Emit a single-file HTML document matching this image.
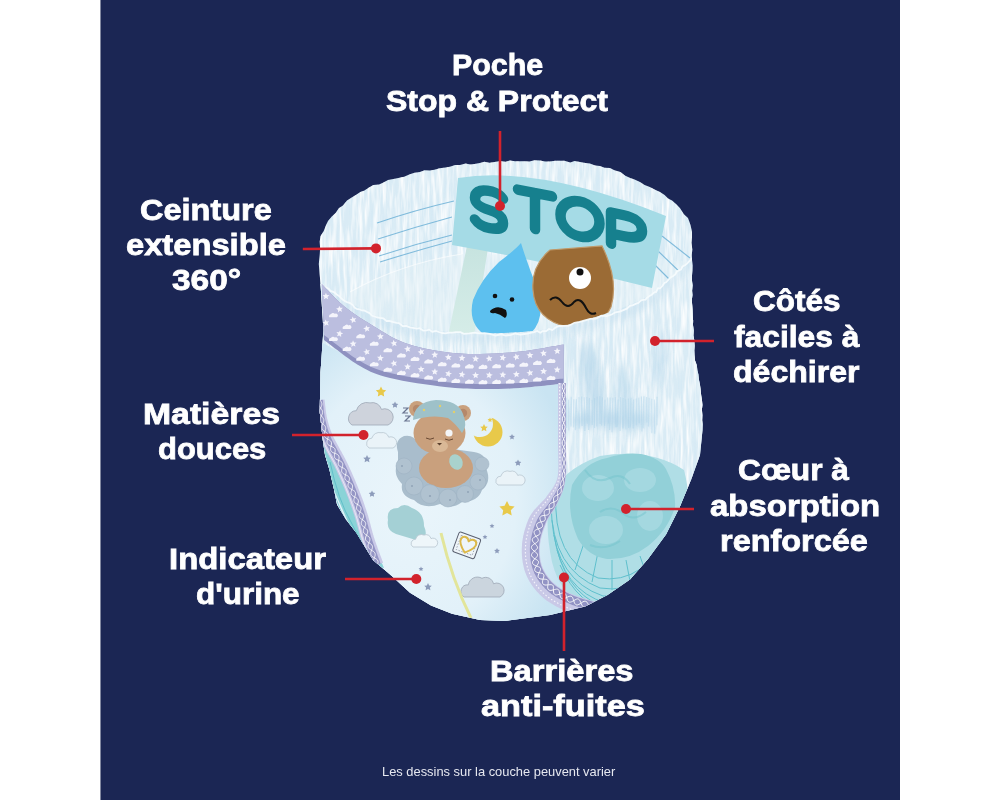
<!DOCTYPE html>
<html><head><meta charset="utf-8"><style>
html,body{margin:0;padding:0;width:1000px;height:800px;overflow:hidden;background:#fff}
#p{position:absolute;left:101px;top:0;width:799px;height:800px;background:#1b2654}
#pe{position:absolute;left:100px;top:0;width:1px;height:800px;background:#1b2654;opacity:0.55}
svg{position:absolute;left:0;top:0}
.t{position:absolute;font:bold 30px "Liberation Sans",sans-serif;line-height:30px;color:#fff;-webkit-text-stroke:0.8px #fff;white-space:nowrap;transform-origin:0 0}
.s{position:absolute;font:13.5px "Liberation Sans",sans-serif;line-height:14px;color:#e6e8f0;white-space:nowrap;transform-origin:0 0}
</style></head><body>
<div id="p"></div><div id="pe"></div>
<svg width="1000" height="800" viewBox="0 0 1000 800">
<defs>
<linearGradient id="gbody" x1="0" y1="0" x2="0" y2="1">
<stop offset="0" stop-color="#e3f1f8"/><stop offset="1" stop-color="#d6eaf5"/>
</linearGradient>
<radialGradient id="gfront" cx="0.42" cy="0.55" r="0.62">
<stop offset="0" stop-color="#eaf5fb"/><stop offset="0.65" stop-color="#e2f1f9"/><stop offset="1" stop-color="#c9e4f2"/>
</radialGradient>
<linearGradient id="gside" x1="0" y1="0" x2="1" y2="0">
<stop offset="0" stop-color="#d2e8f4"/><stop offset="0.5" stop-color="#dcedf7"/><stop offset="1" stop-color="#e3f1f8"/>
</linearGradient>
<radialGradient id="gpad" cx="0.5" cy="0.4" r="0.7">
<stop offset="0" stop-color="#a9ddd8"/><stop offset="1" stop-color="#8bcfca"/>
</radialGradient>
<clipPath id="clipD"><path d="M318.8,264.0 L319.3,258.8 L319.8,253.6 L320.1,248.0 L319.7,241.5 L320.6,236.0 L323.6,231.3 L326.0,225.3 L328.0,221.0 L331.8,216.5 L335.7,213.0 L338.8,208.3 L342.9,205.4 L347.0,200.6 L351.7,197.4 L356.2,194.7 L360.3,192.1 L364.0,190.8 L369.0,187.5 L373.4,185.1 L379.1,184.4 L383.0,182.7 L388.0,180.0 L393.4,179.0 L398.3,178.1 L404.2,176.8 L409.8,174.3 L414.5,172.7 L420.0,172.0 L424.6,170.3 L429.8,170.4 L434.4,169.7 L439.8,168.2 L445.4,167.6 L449.8,166.7 L455.2,165.1 L460.0,165.0 L465.6,163.6 L470.3,164.6 L474.4,164.0 L479.8,163.1 L484.4,161.7 L489.6,162.8 L494.6,162.0 L500.0,161.0 L505.5,161.7 L509.8,160.6 L515.0,161.3 L519.5,161.2 L525.4,161.3 L529.4,161.4 L534.5,160.3 L540.0,160.5 L545.1,161.4 L549.8,161.6 L555.1,160.7 L559.8,160.7 L564.5,160.8 L570.2,162.5 L574.6,161.0 L580.0,162.0 L585.6,163.1 L589.9,163.5 L595.1,165.6 L599.9,165.9 L604.5,167.7 L610.0,168.0 L614.4,170.3 L620.4,172.0 L625.3,175.8 L630.2,177.9 L634.5,179.5 L640.0,182.0 L644.6,185.1 L649.8,186.9 L655.6,190.1 L660.0,192.0 L664.6,194.9 L668.0,198.4 L672.0,200.6 L676.0,204.0 L679.9,208.0 L683.9,214.2 L688.0,218.0 L690.6,225.2 L692.0,232.0 L692.0,237.3 L691.5,242.8 L692.3,249.5 L691.8,254.9 L692.0,260.0 L692.4,265.4 L692.3,270.5 L692.0,275.4 L691.9,280.0 L692.6,285.3 L692.1,290.8 L692.5,295.1 L691.8,300.1 L692.2,305.3 L692.5,310.0 L692.7,315.6 L693.1,320.5 L693.0,325.3 L693.7,330.6 L693.4,335.6 L694.3,340.3 L694.6,345.8 L694.3,350.1 L694.5,355.0 L695.0,360.6 L696.8,365.0 L697.4,370.4 L698.4,374.4 L699.0,380.0 L700.0,385.1 L700.6,389.9 L701.2,395.5 L702.0,400.4 L702.5,405.0 L701.9,409.4 L702.4,415.3 L702.2,420.3 L702.7,424.2 L702.5,430.0 L700.0,455.0 L691.0,480.0 L679.5,507.5 L666.0,534.5 L648.0,559.0 L630.0,579.5 L607.5,595.0 L585.0,606.5 L550.0,615.0 L505.0,621.0 L480.0,620.0 L452.0,613.8 L431.0,605.4 L410.0,592.8 L391.8,576.0 L373.0,560.0 L356.5,533.0 L346.0,519.5 L337.0,504.5 L334.0,489.5 L329.5,470.0 L325.0,455.0 L322.8,440.0 L319.7,412.0 L320.5,372.5 L323.4,330.0 L321.5,300.0 L320.6,285.0Z"/></clipPath>
<filter id="t1" x="0" y="0" width="1" height="1">
<feTurbulence type="fractalNoise" baseFrequency="0.3 0.03" numOctaves="3" seed="4"/>
<feColorMatrix values="0 0 0 0 1  0 0 0 0 1  0 0 0 0 1  0 0 0 2.5 -1.0"/>
</filter>
<filter id="t2" x="0" y="0" width="1" height="1">
<feTurbulence type="fractalNoise" baseFrequency="0.3 0.03" numOctaves="3" seed="4"/>
<feColorMatrix values="0 0 0 0 0.6  0 0 0 0 0.78  0 0 0 0 0.9  0 0 0 -2.5 1.1"/>
</filter>
<filter id="t3" x="0" y="0" width="1" height="1">
<feTurbulence type="fractalNoise" baseFrequency="0.06 0.2" numOctaves="3" seed="11"/>
<feColorMatrix values="0 0 0 0 1  0 0 0 0 1  0 0 0 0 1  0 0 0 2.0 -0.85"/>
</filter>
<filter id="blur4" x="-50%" y="-50%" width="200%" height="200%"><feGaussianBlur stdDeviation="4"/></filter>
</defs>
<g clip-path="url(#clipD)">
<rect x="300" y="150" width="420" height="480" fill="#dcedf6"/>
<rect x="300" y="150" width="420" height="200" filter="url(#t2)" opacity="0.5"/>
<rect x="300" y="150" width="420" height="200" filter="url(#t1)" opacity="0.85"/>
<!-- inner floor -->
<path id="floor" fill="#e0eff6" d="M350,292 Q400,264 462,254 L655,258 L690,262 L690,340 L350,340 Z"/>
<clipPath id="clipFl"><path d="M350,292 Q400,264 462,254 L655,258 L690,262 L690,340 L350,340 Z"/></clipPath>
<g clip-path="url(#clipFl)"><rect x="340" y="240" width="360" height="110" filter="url(#t2)" opacity="0.35"/><rect x="340" y="240" width="360" height="110" filter="url(#t1)" opacity="0.5"/></g>
<linearGradient id="gstrip" x1="0" y1="0" x2="0" y2="1"><stop offset="0" stop-color="#c6e3df"/><stop offset="1" stop-color="#d6ede8"/></linearGradient>
<path fill="url(#gstrip)" d="M448,336 L467,246 L489,242 L474,336 Z"/>
<path fill="none" stroke="#ffffff" stroke-width="1.2" opacity="0.6" d="M350,292 Q400,264 462,254"/>
<g stroke="#5fa9d2" stroke-width="1.1" fill="none" opacity="0.75">
<path d="M377,223 Q415,210 454,201"/><path d="M378,239 Q415,227 452,217"/><path d="M379,256 Q415,244 452,235"/><path d="M380,262 Q415,251 452,241"/>
<path d="M662,236 L690,258"/><path d="M657,250 L684,276"/><path d="M654,264 L674,284"/>
</g>
<!-- STOP label -->
<path fill="#a5dbe6" d="M458,178 Q540,165 666,216 L652,288 Q550,262 452,245 Z"/>
<g fill="none" stroke="#16808e" stroke-width="10.5" stroke-linecap="round" stroke-linejoin="round">
<path transform="translate(489,209) skewY(10)" d="M14,-13 C10,-18 4,-18 -1,-18 C-9,-18 -14,-14 -14,-8 C-14,-2 -7,0 0,1 C8,2 14,5 14,11 C14,17 8,19 0,19 C-6,19 -11,17 -14,13"/>
<path transform="translate(535,211) skewY(11)" d="M-17,-18 H17 M0,-18 V18"/>
<ellipse transform="translate(580,219) skewY(11)" cx="0" cy="0" rx="19.5" ry="17.5"/>
<path transform="translate(627,230) skewY(12)" d="M-16,-14 V17 M-16,-14 H-3 C9,-14 15,-10 15,-3 C15,4 9,7 -3,7 H-16"/>
</g>
<!-- water drop -->
<path fill="#5dc0ef" d="M521,243 Q528,266 538,290 Q546,318 531,333 Q510,347 488,337 Q467,325 473,300 Q481,279 499,262 Q515,250 521,243 Z"/>
<circle cx="495" cy="296" r="2.3" fill="#111"/><circle cx="512" cy="299.5" r="2.3" fill="#111"/>
<path fill="#111" d="M490,311 Q497,304 506,310 Q508,316 505,318 Q500,314 495,313 Q490,314 490,311 Z"/>
<!-- poop -->
<path fill="#9b6b35" stroke="#c09868" stroke-width="1.2" d="M550,250 Q531,266 533,290 Q535,320 568,327 Q600,331 611,307 Q619,280 602,246 Z"/>
<circle cx="580" cy="278" r="11" fill="#fff"/><circle cx="580" cy="272" r="3.5" fill="#111"/>
<path d="M550,300 Q556,294 562,302 Q568,310 574,302 Q580,296 586,308 Q590,316 596,313" stroke="#111" stroke-width="2" fill="none"/>
<!-- front body -->
<path id="front" fill="#dcedf6" d="M300,284 L321,284 Q350,305 380,318 Q420,330 460,333 Q520,335 560,327 Q620,312 652,294 Q675,275 696,254 L720,254 L720,640 L300,640 Z"/>
<clipPath id="clipF"><path d="M300,284 L321,284 Q350,305 380,318 Q420,330 460,333 Q520,335 560,327 Q620,312 652,294 Q675,275 696,254 L720,254 L720,640 L300,640 Z"/></clipPath>
<g clip-path="url(#clipF)">
<rect x="300" y="250" width="420" height="260" filter="url(#t2)" opacity="0.5"/>
<rect x="300" y="250" width="420" height="260" filter="url(#t1)" opacity="0.85"/>
</g>
<g clip-path="url(#clipF)"><path fill="none" stroke="#b5d6ea" stroke-width="5" opacity="0.6" filter="url(#blur4)" d="M321.0,288.0 L322.4,289.0 L324.1,290.2 L326.2,291.7 L328.5,293.4 L331.0,295.2 L333.6,297.1 L336.4,299.1 L339.2,301.0 L342.0,303.0 L344.8,304.8 L347.5,306.5 L350.0,308.0 L352.4,309.4 L354.8,310.7 L357.2,312.0 L359.6,313.2 L361.9,314.4 L364.3,315.6 L366.7,316.7 L369.2,317.8 L371.8,318.9 L374.4,319.9 L377.1,321.0 L380.0,322.0 L383.0,323.0 L386.1,324.1 L389.3,325.1 L392.6,326.1 L396.0,327.2 L399.4,328.1 L402.8,329.1 L406.3,330.0 L409.8,330.8 L413.2,331.6 L416.6,332.3 L420.0,333.0 L423.3,333.6 L426.4,334.1 L429.5,334.6 L432.6,335.0 L435.7,335.3 L438.8,335.6 L441.9,335.9 L445.2,336.1 L448.6,336.4 L452.2,336.6 L456.0,336.8 L460.0,337.0 L464.4,337.2 L469.1,337.4 L474.1,337.6 L479.3,337.9 L484.6,338.0 L490.0,338.2 L495.4,338.3 L500.7,338.4 L505.9,338.4 L510.9,338.3 L515.6,338.2 L520.0,338.0 L524.0,337.7 L527.6,337.4 L530.9,337.0 L534.1,336.6 L537.1,336.1 L540.0,335.6 L542.9,335.0 L545.9,334.3 L549.1,333.6 L552.4,332.8 L556.0,331.9 L560.0,331.0 L564.4,330.0 L569.2,328.9 L574.2,327.7 L579.6,326.4 L585.0,325.0 L590.5,323.6 L596.0,322.2 L601.3,320.7 L606.5,319.3 L611.4,317.8 L615.9,316.4 L620.0,315.0 L623.7,313.6 L627.1,312.3 L630.2,310.9 L633.1,309.5 L635.8,308.1 L638.3,306.8 L640.7,305.3 L643.0,303.9 L645.3,302.5 L647.5,301.0 L649.7,299.5 L652.0,298.0 L654.2,296.4 L656.4,294.8 L658.4,293.2 L660.4,291.6 L662.3,289.9 L664.2,288.2 L666.0,286.5 L667.8,284.8 L669.6,283.1 L671.4,281.4 L673.2,279.7 L675.0,278.0 L676.9,276.3 L678.9,274.4 L680.9,272.5 L682.9,270.6 L685.0,268.7 L686.9,266.8 L688.8,264.9 L690.6,263.2 L692.3,261.6 L693.7,260.2 L695.0,259.0 L696.0,258.0"/></g>
<path fill="none" stroke="#f6fbfd" stroke-width="1.8" opacity="0.95" d="M320.7,284.5 L322.5,284.9 L323.9,286.9 L326.5,287.8 L328.5,288.8 L330.5,290.9 L333.7,292.1 L336.7,294.4 L338.9,295.9 L342.5,299.5 L345.1,301.1 L347.0,302.1 L350.0,303.1 L352.9,305.1 L354.5,307.5 L356.8,309.0 L359.5,309.3 L361.8,310.4 L364.0,310.5 L367.1,312.0 L369.5,313.1 L372.2,315.8 L374.7,316.5 L377.2,317.5 L379.6,317.9 L383.3,318.3 L386.5,321.0 L389.2,320.8 L392.5,321.9 L396.5,322.9 L398.9,323.1 L403.0,326.2 L406.3,325.9 L409.8,327.4 L412.9,327.9 L416.7,328.6 L419.7,328.2 L423.1,330.6 L426.3,330.3 L429.3,329.6 L432.2,331.7 L435.9,331.0 L438.9,332.0 L442.3,333.0 L445.1,333.3 L449.1,332.6 L452.6,332.6 L455.8,332.2 L460.4,332.2 L463.9,333.9 L469.3,333.4 L474.4,332.6 L479.0,333.3 L484.5,333.2 L489.6,333.8 L495.8,335.5 L501.0,334.3 L505.7,335.5 L511.0,334.9 L515.2,333.5 L520.3,334.7 L524.4,334.0 L527.5,333.6 L531.3,332.6 L534.1,332.1 L537.3,330.9 L540.2,332.7 L542.5,331.2 L546.1,331.1 L549.1,329.0 L552.3,329.9 L556.4,327.0 L559.6,326.0 L563.9,325.9 L568.8,325.7 L574.4,322.8 L579.6,321.9 L585.0,320.3 L590.2,318.9 L595.9,318.7 L601.4,315.7 L606.7,316.2 L611.7,314.5 L615.4,312.3 L619.6,311.6 L623.4,310.1 L626.8,308.7 L630.0,305.8 L633.0,305.1 L636.2,303.6 L638.3,302.9 L641.2,300.4 L643.1,299.9 L645.5,299.6 L647.3,297.5 L649.8,295.7 L651.6,294.8 L654.7,292.1 L656.2,292.0 L658.0,288.2 L660.0,288.3 L662.6,285.8 L664.3,283.0 L666.2,282.3 L667.8,280.5 L669.5,278.4 L670.9,277.2 L672.9,276.2 L675.3,274.5 L676.8,271.6 L678.7,270.4 L681.0,269.6 L682.5,266.5 L684.9,265.2 L687.3,263.4 L689.0,261.5 L690.8,260.0 L692.5,258.0 L693.5,257.2 L694.9,255.2 L696.3,255.1"/>
<!-- front panel below band -->
<path fill="url(#gfront)" d="M300,330 Q380,378 445,386 Q510,392 563,383 L563,640 L300,640 Z"/>
<path stroke="#b8d8ec" stroke-width="1.2" fill="none" opacity="0.55" d="M566.0,397.9 l0.6,30.0 M568.6,399.7 l0.2,30.9 M571.2,396.7 l-0.1,29.8 M573.8,399.3 l-0.5,28.2 M576.4,399.3 l-0.9,30.9 M579.0,396.9 l0.3,31.5 M581.6,396.4 l0.5,29.5 M584.2,397.3 l0.7,33.6 M586.8,397.2 l0.4,26.4 M589.4,398.1 l-0.8,32.0 M592.0,399.7 l0.3,25.4 M594.6,398.1 l-0.1,29.9 M597.2,396.6 l-0.4,29.9 M599.8,396.3 l0.3,27.7 M602.4,397.2 l-0.8,28.3 M605.0,399.7 l-0.4,26.1 M607.6,397.4 l0.9,26.0 M610.2,397.4 l-0.6,32.5 M612.8,397.8 l-0.8,34.5 M615.4,397.3 l0.4,30.0 M618.0,399.5 l-0.9,27.5 M620.6,397.1 l-0.5,34.0 M623.2,398.0 l-0.3,30.6 M625.8,399.4 l0.1,30.0 M628.4,398.6 l0.2,29.5 M631.0,397.7 l-0.7,29.8 M633.6,399.5 l-0.4,29.0 M636.2,398.4 l0.2,26.9 M638.8,397.8 l0.5,25.5 M641.4,396.4 l0.5,35.0 M644.0,396.3 l-0.8,31.9 M646.6,397.1 l0.3,25.4 M649.2,397.8 l-0.7,28.7 M651.8,398.8 l0.0,34.4 M654.4,399.4 l0.2,34.3 M657.0,396.7 l-0.1,28.5"/>
<g clip-path="url(#clipF)" filter="url(#blur4)" opacity="0.55">
<ellipse cx="592" cy="380" rx="9" ry="40" fill="#a9cfe6" transform="rotate(-12 592 380)"/>
<ellipse cx="625" cy="400" rx="7" ry="34" fill="#b3d6ea" transform="rotate(-8 625 400)"/>
<ellipse cx="610" cy="420" rx="40" ry="8" fill="#a9cfe6"/>
<ellipse cx="660" cy="360" rx="6" ry="30" fill="#b8d8ec" transform="rotate(10 660 360)"/>
</g>
<!-- band -->
<path fill="#8e91c0" d="M321.8,284.0 C325.6,287.8 336.1,299.8 345.0,307.0 C353.9,314.2 365.0,321.0 375.0,327.0 C385.0,333.0 393.3,338.8 405.0,343.0 C416.7,347.2 432.5,350.2 445.0,352.0 C457.5,353.8 467.5,354.1 480.0,354.0 C492.5,353.9 506.1,353.1 520.0,351.5 C534.0,349.9 556.4,345.6 563.7,344.4 L563.7,383.6 C556.4,384.3 534.0,387.1 520.0,388.0 C506.1,388.9 492.5,389.2 480.0,389.0 C467.5,388.8 460.0,388.8 445.0,387.0 C430.0,385.2 404.2,381.5 390.0,378.0 C375.8,374.5 371.0,372.3 360.0,366.0 C349.0,359.7 330.0,344.3 324.0,340.0 Z"/>
<path fill="#bbbedf" d="M321.8,284.0 C325.6,287.8 336.1,299.8 345.0,307.0 C353.9,314.2 365.0,321.0 375.0,327.0 C385.0,333.0 393.3,338.8 405.0,343.0 C416.7,347.2 432.5,350.2 445.0,352.0 C457.5,353.8 467.5,354.1 480.0,354.0 C492.5,353.9 506.1,353.1 520.0,351.5 C534.0,349.9 556.4,345.6 563.7,344.4 L563.7,378.6 C556.4,379.3 534.0,382.1 520.0,383.0 C506.1,383.9 492.5,384.2 480.0,384.0 C467.5,383.8 460.0,383.8 445.0,382.0 C430.0,380.2 404.2,376.5 390.0,373.0 C375.8,369.5 371.0,367.3 360.0,361.0 C349.0,354.7 330.0,339.3 324.0,335.0 Z"/>
<path fill="#f4f4fb" d="M325.9,292.8 L326.9,295.1 L329.4,295.2 L327.5,296.9 L328.2,299.3 L326.0,298.0 L323.9,299.3 L324.5,296.9 L322.6,295.3 L325.0,295.1Z M339.1,305.7 L340.4,307.8 L342.8,307.7 L341.2,309.5 L342.1,311.8 L339.8,310.8 L337.9,312.4 L338.1,310.0 L336.1,308.6 L338.5,308.1Z M352.4,316.4 L353.8,318.4 L356.3,318.0 L354.8,320.0 L355.9,322.2 L353.6,321.5 L351.8,323.2 L351.8,320.7 L349.6,319.6 L352.0,318.8Z M366.1,325.2 L367.5,327.2 L369.9,327.0 L368.4,328.9 L369.4,331.2 L367.1,330.3 L365.3,332.0 L365.4,329.5 L363.2,328.3 L365.6,327.6Z M380.1,333.0 L381.2,335.2 L383.7,335.1 L382.0,336.9 L382.8,339.3 L380.6,338.2 L378.6,339.7 L378.9,337.2 L376.9,335.8 L379.3,335.3Z M393.4,339.8 L394.7,341.9 L397.2,341.7 L395.6,343.6 L396.6,345.9 L394.3,344.9 L392.4,346.6 L392.6,344.1 L390.4,342.8 L392.8,342.2Z M407.0,345.5 L408.3,347.6 L410.8,347.4 L409.2,349.3 L410.2,351.6 L407.9,350.7 L406.0,352.3 L406.2,349.8 L404.0,348.5 L406.5,347.9Z M420.3,348.5 L421.8,350.5 L424.3,350.1 L422.8,352.1 L424.0,354.3 L421.6,353.6 L419.8,355.3 L419.8,352.9 L417.6,351.7 L420.0,351.0Z M434.7,351.3 L435.7,353.6 L438.2,353.7 L436.3,355.4 L437.0,357.8 L434.8,356.5 L432.7,357.9 L433.3,355.4 L431.4,353.9 L433.8,353.6Z M448.2,353.7 L449.3,355.9 L451.7,356.0 L450.0,357.7 L450.7,360.1 L448.5,358.9 L446.5,360.3 L446.9,357.9 L444.9,356.4 L447.4,356.0Z M462.2,354.5 L463.0,356.8 L465.5,357.2 L463.5,358.7 L463.9,361.1 L461.9,359.7 L459.7,360.9 L460.4,358.5 L458.6,356.8 L461.1,356.7Z M475.8,355.3 L476.6,357.6 L479.1,357.9 L477.1,359.4 L477.6,361.9 L475.5,360.5 L473.3,361.7 L474.0,359.3 L472.2,357.6 L474.7,357.5Z M488.7,355.0 L490.0,357.2 L492.4,357.0 L490.8,358.9 L491.7,361.2 L489.4,360.2 L487.5,361.8 L487.7,359.3 L485.7,358.0 L488.1,357.4Z M503.6,354.3 L504.0,356.7 L506.4,357.5 L504.2,358.6 L504.3,361.1 L502.5,359.4 L500.1,360.2 L501.2,358.0 L499.7,356.0 L502.1,356.3Z M515.5,353.6 L517.0,355.5 L519.4,355.1 L518.0,357.1 L519.2,359.3 L516.8,358.6 L515.1,360.4 L515.0,357.9 L512.8,356.9 L515.1,356.0Z M529.8,351.7 L530.9,354.0 L533.4,354.1 L531.6,355.8 L532.3,358.1 L530.1,357.0 L528.0,358.3 L528.5,355.9 L526.5,354.4 L529.0,354.1Z M543.2,349.7 L544.4,351.9 L546.9,351.8 L545.2,353.6 L546.0,355.9 L543.8,354.9 L541.8,356.4 L542.1,353.9 L540.1,352.6 L542.5,352.1Z M557.0,347.6 L558.1,349.8 L560.6,349.9 L558.8,351.6 L559.5,354.0 L557.3,352.8 L555.2,354.2 L555.7,351.8 L553.7,350.3 L556.2,349.9Z M329.3,317.3 a2,2 0 0 1 1.5,-3 a2.5,2.5 0 0 1 4,-0.5 a2,2 0 0 1 2,3.5 Z M342.9,328.9 a2,2 0 0 1 1.5,-3 a2.5,2.5 0 0 1 4,-0.5 a2,2 0 0 1 2,3.5 Z M356.5,338.3 a2,2 0 0 1 1.5,-3 a2.5,2.5 0 0 1 4,-0.5 a2,2 0 0 1 2,3.5 Z M370.1,345.7 a2,2 0 0 1 1.5,-3 a2.5,2.5 0 0 1 4,-0.5 a2,2 0 0 1 2,3.5 Z M383.7,352.3 a2,2 0 0 1 1.5,-3 a2.5,2.5 0 0 1 4,-0.5 a2,2 0 0 1 2,3.5 Z M397.3,357.6 a2,2 0 0 1 1.5,-3 a2.5,2.5 0 0 1 4,-0.5 a2,2 0 0 1 2,3.5 Z M410.9,361.0 a2,2 0 0 1 1.5,-3 a2.5,2.5 0 0 1 4,-0.5 a2,2 0 0 1 2,3.5 Z M424.5,363.6 a2,2 0 0 1 1.5,-3 a2.5,2.5 0 0 1 4,-0.5 a2,2 0 0 1 2,3.5 Z M438.1,366.3 a2,2 0 0 1 1.5,-3 a2.5,2.5 0 0 1 4,-0.5 a2,2 0 0 1 2,3.5 Z M451.7,367.6 a2,2 0 0 1 1.5,-3 a2.5,2.5 0 0 1 4,-0.5 a2,2 0 0 1 2,3.5 Z M465.3,368.4 a2,2 0 0 1 1.5,-3 a2.5,2.5 0 0 1 4,-0.5 a2,2 0 0 1 2,3.5 Z M478.9,368.9 a2,2 0 0 1 1.5,-3 a2.5,2.5 0 0 1 4,-0.5 a2,2 0 0 1 2,3.5 Z M492.5,368.3 a2,2 0 0 1 1.5,-3 a2.5,2.5 0 0 1 4,-0.5 a2,2 0 0 1 2,3.5 Z M506.1,367.6 a2,2 0 0 1 1.5,-3 a2.5,2.5 0 0 1 4,-0.5 a2,2 0 0 1 2,3.5 Z M519.7,366.7 a2,2 0 0 1 1.5,-3 a2.5,2.5 0 0 1 4,-0.5 a2,2 0 0 1 2,3.5 Z M533.3,364.9 a2,2 0 0 1 1.5,-3 a2.5,2.5 0 0 1 4,-0.5 a2,2 0 0 1 2,3.5 Z M546.9,363.1 a2,2 0 0 1 1.5,-3 a2.5,2.5 0 0 1 4,-0.5 a2,2 0 0 1 2,3.5 Z M325.3,319.4 L326.7,321.5 L329.1,321.2 L327.6,323.1 L328.7,325.4 L326.3,324.5 L324.5,326.2 L324.6,323.7 L322.4,322.5 L324.8,321.8Z M340.2,330.2 L340.8,332.6 L343.2,333.3 L341.0,334.5 L341.2,337.0 L339.3,335.4 L337.0,336.3 L338.0,334.0 L336.4,332.1 L338.9,332.3Z M353.0,340.3 L354.1,342.5 L356.5,342.5 L354.8,344.3 L355.5,346.6 L353.3,345.5 L351.3,346.9 L351.7,344.5 L349.7,343.0 L352.2,342.6Z M365.9,348.4 L367.4,350.4 L369.9,350.0 L368.4,352.0 L369.6,354.2 L367.2,353.5 L365.4,355.2 L365.4,352.8 L363.2,351.7 L365.6,350.9Z M380.6,354.6 L381.4,356.9 L383.9,357.3 L381.9,358.8 L382.3,361.2 L380.3,359.8 L378.1,360.9 L378.8,358.6 L377.0,356.8 L379.5,356.8Z M393.2,359.9 L394.7,361.9 L397.1,361.6 L395.6,363.6 L396.7,365.8 L394.3,365.0 L392.5,366.7 L392.6,364.2 L390.4,363.1 L392.8,362.3Z M407.7,363.2 L408.6,365.5 L411.0,365.8 L409.1,367.4 L409.6,369.8 L407.6,368.5 L405.4,369.7 L406.0,367.3 L404.2,365.6 L406.7,365.5Z M420.9,365.7 L422.0,367.9 L424.5,367.9 L422.8,369.7 L423.6,372.0 L421.3,370.9 L419.3,372.4 L419.7,369.9 L417.7,368.5 L420.1,368.1Z M435.0,368.2 L435.8,370.5 L438.3,370.8 L436.3,372.3 L436.8,374.8 L434.7,373.4 L432.6,374.6 L433.2,372.2 L431.4,370.5 L433.9,370.4Z M449.3,370.3 L449.6,372.7 L452.0,373.5 L449.8,374.6 L449.8,377.1 L448.0,375.4 L445.7,376.1 L446.8,373.9 L445.3,371.9 L447.8,372.3Z M462.6,371.0 L463.2,373.4 L465.6,374.0 L463.4,375.3 L463.6,377.8 L461.7,376.2 L459.4,377.1 L460.4,374.8 L458.8,372.9 L461.3,373.1Z M475.4,371.8 L476.5,374.0 L479.0,374.1 L477.2,375.8 L477.8,378.2 L475.7,377.0 L473.6,378.3 L474.1,375.9 L472.1,374.4 L474.6,374.1Z M489.8,371.7 L490.4,374.1 L492.8,374.7 L490.6,376.0 L490.8,378.5 L488.9,376.9 L486.6,377.8 L487.6,375.5 L486.0,373.6 L488.5,373.8Z M503.1,371.2 L503.8,373.6 L506.3,373.9 L504.3,375.4 L504.7,377.9 L502.7,376.4 L500.5,377.5 L501.2,375.2 L499.5,373.4 L501.9,373.4Z M516.2,370.7 L517.3,372.9 L519.7,373.0 L518.0,374.7 L518.7,377.1 L516.5,375.9 L514.5,377.4 L514.9,374.9 L512.9,373.4 L515.4,373.1Z M529.3,369.5 L530.7,371.5 L533.2,371.3 L531.6,373.2 L532.6,375.5 L530.3,374.6 L528.5,376.3 L528.6,373.8 L526.4,372.5 L528.8,371.9Z M543.8,367.8 L544.6,370.1 L547.1,370.5 L545.1,372.0 L545.6,374.4 L543.5,373.0 L541.3,374.2 L542.0,371.8 L540.2,370.1 L542.7,370.0Z M557.3,366.2 L558.2,368.5 L560.7,368.8 L558.7,370.3 L559.2,372.8 L557.1,371.4 L555.0,372.6 L555.6,370.2 L553.8,368.6 L556.3,368.4Z M329.3,341.0 a2,2 0 0 1 1.5,-3 a2.5,2.5 0 0 1 4,-0.5 a2,2 0 0 1 2,3.5 Z M342.9,350.9 a2,2 0 0 1 1.5,-3 a2.5,2.5 0 0 1 4,-0.5 a2,2 0 0 1 2,3.5 Z M356.5,360.7 a2,2 0 0 1 1.5,-3 a2.5,2.5 0 0 1 4,-0.5 a2,2 0 0 1 2,3.5 Z M370.1,366.3 a2,2 0 0 1 1.5,-3 a2.5,2.5 0 0 1 4,-0.5 a2,2 0 0 1 2,3.5 Z M383.7,371.8 a2,2 0 0 1 1.5,-3 a2.5,2.5 0 0 1 4,-0.5 a2,2 0 0 1 2,3.5 Z M397.3,374.9 a2,2 0 0 1 1.5,-3 a2.5,2.5 0 0 1 4,-0.5 a2,2 0 0 1 2,3.5 Z M410.9,377.2 a2,2 0 0 1 1.5,-3 a2.5,2.5 0 0 1 4,-0.5 a2,2 0 0 1 2,3.5 Z M424.5,379.5 a2,2 0 0 1 1.5,-3 a2.5,2.5 0 0 1 4,-0.5 a2,2 0 0 1 2,3.5 Z M438.1,381.7 a2,2 0 0 1 1.5,-3 a2.5,2.5 0 0 1 4,-0.5 a2,2 0 0 1 2,3.5 Z M451.7,382.9 a2,2 0 0 1 1.5,-3 a2.5,2.5 0 0 1 4,-0.5 a2,2 0 0 1 2,3.5 Z M465.3,383.7 a2,2 0 0 1 1.5,-3 a2.5,2.5 0 0 1 4,-0.5 a2,2 0 0 1 2,3.5 Z M478.9,384.2 a2,2 0 0 1 1.5,-3 a2.5,2.5 0 0 1 4,-0.5 a2,2 0 0 1 2,3.5 Z M492.5,383.9 a2,2 0 0 1 1.5,-3 a2.5,2.5 0 0 1 4,-0.5 a2,2 0 0 1 2,3.5 Z M506.1,383.5 a2,2 0 0 1 1.5,-3 a2.5,2.5 0 0 1 4,-0.5 a2,2 0 0 1 2,3.5 Z M519.7,382.9 a2,2 0 0 1 1.5,-3 a2.5,2.5 0 0 1 4,-0.5 a2,2 0 0 1 2,3.5 Z M533.3,381.5 a2,2 0 0 1 1.5,-3 a2.5,2.5 0 0 1 4,-0.5 a2,2 0 0 1 2,3.5 Z M546.9,380.1 a2,2 0 0 1 1.5,-3 a2.5,2.5 0 0 1 4,-0.5 a2,2 0 0 1 2,3.5 Z"/>
<!-- green pad -->
<path fill="#b0dee6" d="M549,500 Q560,470 600,456 Q650,448 684,470 Q692,500 684,522 Q672,560 640,592 Q610,608 585,606 Q560,594 552,562 Q545,530 549,500 Z"/>
<g stroke="#52bac8" stroke-width="1" fill="none" opacity="0.85">
<path d="M551,505 Q552,570 600,588 Q650,596 676,535"/>
<path d="M552,520 Q556,580 603,596 Q652,600 680,545"/>
<path d="M554,535 Q562,590 606,603 Q650,606 684,556"/>
<path d="M557,550 Q570,598 610,609 Q648,610 688,565"/>
<path d="M560,565 Q578,606 614,613 Q645,614 690,574"/>
<path d="M556,492 Q552,560 598,578 Q646,586 672,525"/>
<path d="M575,570 L585,540 M592,582 L598,552 M612,590 L612,560 M632,592 L626,560 M650,585 L640,556"/>
</g>
<path fill="#92d0d8" d="M572,485 Q585,462 607,458 Q625,452 641,454 Q660,458 666,469 Q676,488 675,507 Q668,530 648,546 Q630,560 607,559 Q588,556 578,539 Q566,512 572,485 Z"/>
<g fill="#aadbe3" opacity="0.75"><ellipse cx="598" cy="488" rx="16" ry="13"/><ellipse cx="640" cy="480" rx="16" ry="12"/><ellipse cx="650" cy="516" rx="13" ry="15"/><ellipse cx="606" cy="530" rx="17" ry="14"/></g>
<g stroke="#74c3cc" stroke-width="2" fill="none" opacity="0.5"><path d="M585,470 q10,15 25,8 q12,-6 20,6"/><path d="M600,512 q12,-8 24,2 q10,8 22,-2"/><path d="M590,545 q15,6 30,-4"/></g>
<!-- right leg cuff -->
<path fill="#c9c9e7" d="M566.0,383.0 L566.0,384.0 L566.0,385.2 L566.0,386.5 L566.0,387.9 L566.0,389.4 L566.0,391.1 L566.0,392.8 L566.0,394.6 L566.0,396.5 L566.0,398.5 L566.0,400.5 L566.0,402.6 L566.0,404.7 L566.0,406.9 L566.0,409.1 L566.0,411.3 L566.0,413.6 L566.0,415.8 L566.0,418.1 L566.0,420.3 L566.0,422.5 L566.0,424.7 L566.0,426.8 L566.0,428.9 L566.0,430.9 L566.0,432.9 L566.0,434.8 L566.0,436.6 L566.0,438.4 L566.0,440.0 L566.0,441.6 L566.0,443.1 L566.0,444.6 L566.0,446.1 L566.0,447.6 L566.1,449.0 L566.1,450.4 L566.1,451.8 L566.2,453.2 L566.2,454.6 L566.2,455.9 L566.3,457.2 L566.3,458.6 L566.3,459.9 L566.3,461.1 L566.4,462.4 L566.4,463.6 L566.4,464.9 L566.4,466.1 L566.4,467.3 L566.3,468.5 L566.3,469.7 L566.2,470.8 L566.2,472.0 L566.1,473.1 L566.0,474.2 L565.9,475.4 L565.8,476.5 L565.6,477.6 L565.5,478.7 L565.4,479.7 L565.3,480.8 L565.1,481.8 L565.0,482.8 L564.8,483.8 L564.6,484.8 L564.4,485.7 L564.2,486.6 L563.9,487.5 L563.7,488.4 L563.4,489.2 L563.2,490.1 L562.9,490.9 L562.6,491.7 L562.3,492.5 L562.0,493.2 L561.7,494.0 L561.4,494.7 L561.1,495.5 L560.8,496.2 L560.4,496.9 L560.1,497.6 L559.8,498.3 L559.5,499.0 L559.2,499.7 L558.9,500.4 L558.5,501.1 L558.2,501.8 L557.9,502.5 L557.6,503.2 L557.2,504.0 L556.8,504.9 L556.4,505.7 L555.9,506.5 L555.5,507.3 L555.0,508.1 L554.5,508.9 L554.1,509.7 L553.6,510.4 L553.1,511.1 L552.6,511.9 L552.2,512.6 L551.7,513.3 L551.3,514.0 L550.8,514.6 L550.4,515.3 L550.0,516.0 L549.5,516.6 L549.2,517.2 L548.8,517.9 L548.4,518.5 L548.1,519.1 L547.7,519.7 L547.4,520.3 L547.2,520.9 L546.9,521.5 L546.6,522.1 L546.4,522.6 L546.2,523.2 L546.0,523.8 L545.8,524.5 L545.5,525.2 L545.2,525.8 L544.9,526.5 L544.7,527.3 L544.4,528.0 L544.1,528.7 L543.8,529.4 L543.5,530.2 L543.3,530.9 L543.0,531.7 L542.8,532.4 L542.5,533.2 L542.3,533.9 L542.1,534.7 L541.9,535.4 L541.7,536.2 L541.5,537.0 L541.3,537.7 L541.1,538.5 L540.9,539.2 L540.8,540.0 L540.6,540.7 L540.5,541.4 L540.4,542.2 L540.3,542.9 L540.2,543.6 L540.1,544.3 L540.0,545.0 L540.0,545.7 L539.9,546.4 L539.9,547.2 L539.8,547.9 L539.8,548.6 L539.8,549.4 L539.8,550.1 L539.8,550.9 L539.8,551.6 L539.8,552.4 L539.8,553.1 L539.9,553.9 L539.9,554.6 L540.0,555.3 L540.1,556.1 L540.1,556.8 L540.2,557.5 L540.3,558.3 L540.4,559.0 L540.5,559.7 L540.7,560.4 L540.8,561.1 L540.9,561.8 L541.1,562.4 L541.3,563.1 L541.4,563.8 L541.6,564.4 L541.8,565.0 L542.0,565.6 L542.2,566.2 L542.4,566.8 L542.6,567.4 L542.9,568.0 L543.1,568.6 L543.4,569.2 L543.7,569.8 L544.0,570.3 L544.3,570.9 L544.6,571.5 L544.9,572.1 L545.3,572.7 L545.6,573.3 L546.0,573.8 L546.4,574.4 L546.8,575.0 L547.2,575.5 L547.6,576.1 L548.0,576.7 L548.4,577.2 L548.8,577.8 L549.3,578.3 L549.7,578.8 L550.2,579.4 L550.6,579.9 L551.1,580.4 L551.6,580.9 L552.1,581.4 L552.6,581.9 L553.1,582.4 L553.6,582.9 L554.1,583.4 L554.6,583.8 L555.0,584.2 L555.6,584.6 L556.1,585.1 L556.6,585.5 L557.2,585.9 L557.7,586.3 L558.3,586.7 L558.9,587.1 L559.5,587.5 L560.1,587.9 L560.7,588.3 L561.4,588.7 L562.0,589.0 L562.7,589.4 L563.4,589.8 L564.0,590.2 L564.7,590.5 L565.4,590.9 L566.1,591.3 L566.9,591.6 L567.6,592.0 L568.3,592.3 L569.1,592.7 L569.8,593.0 L570.6,593.4 L571.3,593.7 L572.1,594.1 L572.8,594.4 L573.6,594.7 L574.3,595.0 L575.0,595.3 L575.8,595.6 L576.6,595.9 L577.4,596.2 L578.3,596.5 L579.2,596.8 L580.1,597.1 L581.0,597.4 L582.0,597.7 L582.9,598.0 L583.9,598.3 L584.9,598.6 L585.9,598.9 L586.8,599.1 L587.8,599.4 L588.7,599.7 L589.6,599.9 L590.6,600.2 L591.4,600.4 L592.3,600.7 L593.2,600.9 L594.0,601.1 L594.7,601.3 L595.5,601.5 L596.2,601.7 L596.9,601.9 L597.5,602.1 L598.1,602.2 L598.6,602.4 L593.4,619.6 L593.0,619.5 L592.5,619.4 L592.0,619.2 L591.4,619.1 L590.8,618.9 L590.1,618.7 L589.3,618.5 L588.5,618.3 L587.7,618.0 L586.8,617.8 L585.9,617.6 L584.9,617.3 L583.9,617.0 L582.9,616.8 L581.9,616.5 L580.9,616.2 L579.9,615.9 L578.8,615.6 L577.7,615.3 L576.7,614.9 L575.6,614.6 L574.6,614.3 L573.5,613.9 L572.4,613.6 L571.4,613.2 L570.4,612.8 L569.4,612.4 L568.3,612.1 L567.4,611.7 L566.4,611.3 L565.6,610.9 L564.7,610.5 L563.9,610.1 L563.1,609.8 L562.2,609.4 L561.4,609.0 L560.5,608.6 L559.7,608.2 L558.8,607.7 L558.0,607.3 L557.2,606.9 L556.3,606.5 L555.5,606.0 L554.6,605.5 L553.8,605.1 L553.0,604.6 L552.2,604.1 L551.3,603.6 L550.5,603.1 L549.7,602.6 L548.9,602.1 L548.1,601.5 L547.3,601.0 L546.5,600.4 L545.7,599.8 L544.9,599.2 L544.2,598.6 L543.4,597.9 L542.7,597.3 L541.9,596.6 L541.2,596.0 L540.6,595.3 L539.9,594.7 L539.2,594.0 L538.6,593.3 L537.9,592.6 L537.3,591.9 L536.6,591.2 L536.0,590.5 L535.4,589.8 L534.8,589.0 L534.2,588.3 L533.6,587.5 L533.0,586.7 L532.5,586.0 L531.9,585.2 L531.4,584.4 L530.9,583.6 L530.3,582.7 L529.8,581.9 L529.3,581.1 L528.9,580.2 L528.4,579.4 L528.0,578.5 L527.5,577.7 L527.1,576.8 L526.7,575.9 L526.3,575.0 L525.9,574.1 L525.6,573.2 L525.2,572.3 L524.9,571.3 L524.6,570.4 L524.3,569.4 L524.1,568.5 L523.8,567.5 L523.6,566.6 L523.4,565.6 L523.2,564.7 L523.0,563.7 L522.8,562.7 L522.6,561.7 L522.5,560.8 L522.4,559.8 L522.2,558.8 L522.1,557.8 L522.1,556.9 L522.0,555.9 L521.9,554.9 L521.9,553.9 L521.8,552.9 L521.8,552.0 L521.8,551.0 L521.8,550.0 L521.8,549.1 L521.8,548.1 L521.9,547.1 L521.9,546.2 L522.0,545.2 L522.0,544.3 L522.1,543.3 L522.2,542.3 L522.3,541.3 L522.5,540.4 L522.6,539.4 L522.8,538.4 L523.0,537.4 L523.1,536.4 L523.3,535.5 L523.6,534.5 L523.8,533.5 L524.0,532.6 L524.3,531.6 L524.5,530.7 L524.8,529.7 L525.1,528.8 L525.4,527.8 L525.7,526.9 L526.0,525.9 L526.3,525.0 L526.6,524.1 L526.9,523.2 L527.3,522.3 L527.6,521.4 L528.0,520.5 L528.3,519.6 L528.7,518.7 L529.1,517.9 L529.5,517.1 L530.0,516.2 L530.5,515.3 L531.1,514.4 L531.6,513.5 L532.2,512.7 L532.8,511.9 L533.4,511.1 L534.0,510.3 L534.6,509.6 L535.2,508.9 L535.9,508.2 L536.5,507.5 L537.1,506.9 L537.7,506.2 L538.3,505.6 L538.9,505.0 L539.5,504.4 L540.0,503.8 L540.6,503.2 L541.2,502.7 L541.7,502.1 L542.2,501.6 L542.8,501.0 L543.3,500.5 L543.8,500.0 L544.2,499.4 L544.7,498.9 L545.1,498.4 L545.6,497.9 L546.0,497.4 L546.4,496.8 L546.8,496.1 L547.3,495.5 L547.8,494.8 L548.3,494.2 L548.7,493.6 L549.2,492.9 L549.6,492.3 L550.1,491.8 L550.5,491.2 L550.9,490.6 L551.3,490.0 L551.7,489.5 L552.1,488.9 L552.5,488.4 L552.9,487.8 L553.3,487.2 L553.6,486.6 L554.0,486.0 L554.3,485.4 L554.6,484.8 L555.0,484.2 L555.3,483.5 L555.6,482.9 L555.9,482.2 L556.2,481.4 L556.5,480.7 L556.8,479.9 L557.0,479.1 L557.3,478.2 L557.5,477.3 L557.7,476.4 L557.8,475.5 L557.9,474.5 L558.0,473.5 L558.1,472.5 L558.2,471.5 L558.2,470.4 L558.3,469.4 L558.3,468.3 L558.4,467.2 L558.4,466.0 L558.4,464.9 L558.4,463.7 L558.4,462.5 L558.3,461.2 L558.3,460.0 L558.3,458.7 L558.3,457.4 L558.2,456.1 L558.2,454.8 L558.2,453.4 L558.1,452.0 L558.1,450.6 L558.1,449.1 L558.1,447.7 L558.0,446.2 L558.0,444.7 L558.0,443.1 L558.0,441.6 L558.0,440.0 L558.0,438.3 L558.0,436.6 L558.0,434.8 L558.0,432.9 L558.0,430.9 L558.0,428.9 L558.0,426.8 L558.0,424.7 L558.0,422.5 L558.0,420.3 L558.0,418.1 L558.0,415.8 L558.0,413.6 L558.0,411.4 L558.0,409.1 L558.0,406.9 L558.0,404.7 L558.0,402.6 L558.0,400.5 L558.0,398.5 L558.0,396.5 L558.0,394.6 L558.0,392.8 L558.0,391.1 L558.0,389.4 L558.0,387.9 L558.0,386.5 L558.0,385.2 L558.0,384.0 L558.0,383.0Z"/>
<path fill="#9293c4" d="M565.6,383.0 L565.6,384.0 L565.6,385.2 L565.6,386.5 L565.6,387.9 L565.6,389.4 L565.6,391.1 L565.6,392.8 L565.6,394.6 L565.6,396.5 L565.6,398.5 L565.6,400.5 L565.6,402.6 L565.6,404.7 L565.6,406.9 L565.6,409.1 L565.6,411.3 L565.6,413.6 L565.6,415.8 L565.6,418.1 L565.6,420.3 L565.6,422.5 L565.6,424.7 L565.6,426.8 L565.6,428.9 L565.6,430.9 L565.6,432.9 L565.6,434.8 L565.6,436.6 L565.6,438.4 L565.6,440.0 L565.6,441.6 L565.6,443.1 L565.6,444.6 L565.6,446.1 L565.6,447.6 L565.7,449.0 L565.7,450.4 L565.7,451.8 L565.8,453.2 L565.8,454.6 L565.8,455.9 L565.9,457.3 L565.9,458.6 L565.9,459.9 L565.9,461.1 L566.0,462.4 L566.0,463.6 L566.0,464.9 L566.0,466.1 L566.0,467.3 L565.9,468.5 L565.9,469.6 L565.8,470.8 L565.8,471.9 L565.7,473.1 L565.6,474.2 L565.5,475.3 L565.4,476.4 L565.2,477.5 L565.1,478.6 L565.0,479.7 L564.8,480.7 L564.7,481.7 L564.5,482.7 L564.4,483.7 L564.2,484.6 L563.9,485.5 L563.7,486.4 L563.5,487.3 L563.2,488.2 L563.0,489.0 L562.7,489.9 L562.4,490.7 L562.1,491.5 L561.8,492.2 L561.5,493.0 L561.2,493.7 L560.9,494.5 L560.6,495.2 L560.3,495.9 L559.9,496.6 L559.6,497.3 L559.3,498.0 L559.0,498.7 L558.6,499.4 L558.3,500.1 L558.0,500.8 L557.7,501.5 L557.4,502.1 L557.1,502.9 L556.7,503.7 L556.2,504.5 L555.8,505.4 L555.4,506.2 L554.9,506.9 L554.4,507.7 L554.0,508.5 L553.5,509.2 L553.0,510.0 L552.5,510.7 L552.1,511.4 L551.6,512.1 L551.1,512.8 L550.7,513.5 L550.2,514.1 L549.8,514.8 L549.3,515.5 L548.9,516.1 L548.5,516.8 L548.1,517.4 L547.8,518.0 L547.4,518.6 L547.1,519.3 L546.7,519.9 L546.4,520.5 L546.2,521.1 L545.9,521.6 L545.7,522.2 L545.4,522.8 L545.2,523.4 L545.0,524.1 L544.7,524.8 L544.4,525.5 L544.1,526.2 L543.8,526.9 L543.5,527.6 L543.2,528.4 L543.0,529.1 L542.7,529.9 L542.4,530.6 L542.2,531.4 L541.9,532.1 L541.7,532.9 L541.4,533.7 L541.2,534.4 L541.0,535.2 L540.8,536.0 L540.6,536.7 L540.4,537.5 L540.2,538.3 L540.1,539.0 L539.9,539.8 L539.8,540.5 L539.6,541.3 L539.5,542.0 L539.4,542.8 L539.3,543.5 L539.2,544.2 L539.1,544.9 L539.1,545.7 L539.0,546.4 L539.0,547.1 L538.9,547.9 L538.9,548.6 L538.9,549.4 L538.9,550.1 L538.9,550.9 L538.9,551.6 L538.9,552.4 L538.9,553.2 L539.0,553.9 L539.0,554.7 L539.1,555.4 L539.2,556.2 L539.2,556.9 L539.3,557.6 L539.4,558.4 L539.5,559.1 L539.6,559.8 L539.8,560.6 L539.9,561.3 L540.1,562.0 L540.2,562.6 L540.4,563.3 L540.6,564.0 L540.7,564.6 L540.9,565.3 L541.1,565.9 L541.4,566.5 L541.6,567.1 L541.8,567.7 L542.1,568.3 L542.3,568.9 L542.6,569.5 L542.9,570.1 L543.2,570.7 L543.5,571.3 L543.8,571.9 L544.2,572.5 L544.5,573.1 L544.9,573.7 L545.2,574.3 L545.6,574.9 L546.0,575.5 L546.4,576.1 L546.8,576.6 L547.3,577.2 L547.7,577.8 L548.1,578.3 L548.6,578.9 L549.0,579.4 L549.5,580.0 L550.0,580.5 L550.5,581.0 L550.9,581.5 L551.4,582.1 L551.9,582.6 L552.4,583.1 L553.0,583.5 L553.5,584.0 L554.0,584.5 L554.5,584.9 L555.0,585.3 L555.5,585.8 L556.1,586.2 L556.6,586.6 L557.2,587.0 L557.8,587.4 L558.4,587.8 L559.0,588.2 L559.6,588.6 L560.3,589.0 L560.9,589.4 L561.6,589.8 L562.2,590.2 L562.9,590.6 L563.6,591.0 L564.3,591.3 L565.0,591.7 L565.7,592.1 L566.5,592.4 L567.2,592.8 L567.9,593.2 L568.7,593.5 L569.4,593.9 L570.2,594.2 L570.9,594.6 L571.7,594.9 L572.5,595.2 L573.2,595.6 L573.9,595.9 L574.7,596.2 L575.4,596.5 L576.3,596.8 L577.1,597.1 L578.0,597.4 L578.9,597.7 L579.8,598.0 L580.8,598.3 L581.7,598.6 L582.7,598.9 L583.7,599.2 L584.6,599.5 L585.6,599.7 L586.6,600.0 L587.5,600.3 L588.5,600.5 L589.4,600.8 L590.3,601.0 L591.2,601.3 L592.1,601.5 L592.9,601.7 L593.7,602.0 L594.5,602.2 L595.2,602.4 L595.9,602.6 L596.6,602.7 L597.2,602.9 L597.8,603.1 L598.3,603.2 L595.7,611.9 L595.3,611.7 L594.8,611.6 L594.2,611.4 L593.6,611.2 L592.9,611.1 L592.2,610.9 L591.4,610.7 L590.6,610.4 L589.8,610.2 L588.9,610.0 L588.0,609.7 L587.0,609.5 L586.1,609.2 L585.1,609.0 L584.1,608.7 L583.1,608.4 L582.1,608.1 L581.1,607.8 L580.1,607.5 L579.1,607.2 L578.1,606.9 L577.0,606.6 L576.1,606.2 L575.1,605.9 L574.1,605.6 L573.2,605.2 L572.2,604.9 L571.3,604.5 L570.5,604.2 L569.6,603.8 L568.8,603.5 L568.0,603.1 L567.2,602.8 L566.4,602.4 L565.6,602.0 L564.8,601.6 L564.0,601.3 L563.2,600.9 L562.5,600.5 L561.7,600.1 L560.9,599.7 L560.1,599.3 L559.3,598.9 L558.6,598.5 L557.8,598.0 L557.1,597.6 L556.3,597.2 L555.6,596.7 L554.8,596.3 L554.1,595.8 L553.4,595.3 L552.7,594.8 L552.0,594.4 L551.3,593.9 L550.6,593.3 L549.9,592.8 L549.3,592.3 L548.6,591.8 L548.0,591.2 L547.4,590.7 L546.8,590.1 L546.2,589.5 L545.6,588.9 L545.0,588.4 L544.4,587.7 L543.9,587.1 L543.3,586.5 L542.7,585.9 L542.2,585.3 L541.6,584.6 L541.1,584.0 L540.6,583.3 L540.1,582.6 L539.6,582.0 L539.1,581.3 L538.6,580.6 L538.1,579.9 L537.7,579.2 L537.2,578.5 L536.8,577.8 L536.4,577.0 L535.9,576.3 L535.6,575.6 L535.2,574.8 L534.8,574.1 L534.4,573.4 L534.1,572.6 L533.8,571.8 L533.5,571.1 L533.2,570.3 L532.9,569.5 L532.6,568.8 L532.4,568.0 L532.1,567.2 L531.9,566.4 L531.7,565.5 L531.5,564.7 L531.3,563.9 L531.1,563.0 L530.9,562.2 L530.8,561.4 L530.6,560.5 L530.5,559.6 L530.4,558.8 L530.3,557.9 L530.2,557.0 L530.1,556.2 L530.1,555.3 L530.0,554.4 L530.0,553.6 L529.9,552.7 L529.9,551.8 L529.9,550.9 L529.9,550.1 L529.9,549.2 L529.9,548.3 L529.9,547.5 L530.0,546.6 L530.0,545.8 L530.1,544.9 L530.2,544.1 L530.3,543.2 L530.4,542.4 L530.5,541.5 L530.6,540.6 L530.8,539.8 L530.9,538.9 L531.1,538.0 L531.3,537.2 L531.5,536.3 L531.7,535.4 L531.9,534.5 L532.1,533.7 L532.3,532.8 L532.6,531.9 L532.8,531.1 L533.1,530.2 L533.4,529.4 L533.6,528.5 L533.9,527.7 L534.2,526.8 L534.5,526.0 L534.8,525.2 L535.2,524.4 L535.5,523.5 L535.8,522.7 L536.1,521.9 L536.5,521.2 L536.8,520.4 L537.2,519.6 L537.6,518.9 L538.0,518.1 L538.4,517.4 L538.8,516.7 L539.3,515.9 L539.7,515.3 L540.2,514.6 L540.7,513.9 L541.2,513.2 L541.7,512.6 L542.2,511.9 L542.7,511.2 L543.2,510.6 L543.7,510.0 L544.2,509.3 L544.8,508.7 L545.3,508.1 L545.8,507.4 L546.3,506.8 L546.8,506.2 L547.3,505.5 L547.8,504.9 L548.3,504.3 L548.8,503.6 L549.3,503.0 L549.7,502.3 L550.2,501.7 L550.6,501.0 L551.0,500.4 L551.4,499.7 L551.8,499.0 L552.2,498.3 L552.6,497.6 L553.0,497.0 L553.4,496.3 L553.8,495.7 L554.2,495.0 L554.6,494.4 L555.0,493.8 L555.3,493.1 L555.7,492.5 L556.1,491.8 L556.4,491.2 L556.8,490.6 L557.1,489.9 L557.5,489.2 L557.8,488.5 L558.1,487.8 L558.4,487.1 L558.7,486.4 L559.0,485.7 L559.3,484.9 L559.6,484.1 L559.8,483.3 L560.1,482.5 L560.3,481.6 L560.5,480.8 L560.7,479.8 L560.9,478.9 L561.1,477.9 L561.3,476.9 L561.4,475.9 L561.5,474.9 L561.6,473.8 L561.7,472.8 L561.8,471.7 L561.8,470.6 L561.9,469.5 L561.9,468.4 L562.0,467.2 L562.0,466.0 L562.0,464.9 L562.0,463.7 L562.0,462.4 L561.9,461.2 L561.9,459.9 L561.9,458.6 L561.9,457.3 L561.8,456.0 L561.8,454.7 L561.8,453.3 L561.7,451.9 L561.7,450.5 L561.7,449.1 L561.6,447.6 L561.6,446.1 L561.6,444.6 L561.6,443.1 L561.6,441.6 L561.6,440.0 L561.6,438.4 L561.6,436.6 L561.6,434.8 L561.6,432.9 L561.6,430.9 L561.6,428.9 L561.6,426.8 L561.6,424.7 L561.6,422.5 L561.6,420.3 L561.6,418.1 L561.6,415.8 L561.6,413.6 L561.6,411.4 L561.6,409.1 L561.6,406.9 L561.6,404.7 L561.6,402.6 L561.6,400.5 L561.6,398.5 L561.6,396.5 L561.6,394.6 L561.6,392.8 L561.6,391.1 L561.6,389.4 L561.6,387.9 L561.6,386.5 L561.6,385.2 L561.6,384.0 L561.6,383.0Z"/>
<path fill="none" stroke="#fff" stroke-width="0.9" d="M563.6,383.0 L563.1,384.0 L562.6,385.2 L562.3,386.5 L562.3,387.9 L562.8,389.4 L563.6,391.1 L564.5,392.8 L565.0,394.6 L564.7,396.5 L563.9,398.5 L562.9,400.5 L562.3,402.6 L562.6,404.7 L563.6,406.9 L564.6,409.1 L565.0,411.3 L564.4,413.6 L563.2,415.8 L562.4,418.1 L562.4,420.3 L563.4,422.5 L564.5,424.7 L565.0,426.8 L564.6,428.9 L563.7,430.9 L562.7,432.9 L562.3,434.8 L562.5,436.6 L563.3,438.4 L564.1,440.0 L564.7,441.6 L565.0,443.1 L564.7,444.6 L564.1,446.1 L563.3,447.6 L562.7,449.1 L562.4,450.5 L562.5,451.9 L562.9,453.3 L563.6,454.6 L564.4,456.0 L564.9,457.3 L565.2,458.6 L565.2,459.9 L564.8,461.2 L564.3,462.4 L563.6,463.7 L563.1,464.9 L562.7,466.1 L562.6,467.2 L562.8,468.4 L563.1,469.5 L563.6,470.7 L564.2,471.8 L564.6,473.0 L564.8,474.1 L564.9,475.3 L564.6,476.3 L564.2,477.4 L563.6,478.3 L562.9,479.3 L562.2,480.2 L561.6,481.0 L561.1,481.8 L560.8,482.7 L560.6,483.5 L560.5,484.4 L560.6,485.4 L560.8,486.3 L561.0,487.3 L561.1,488.3 L561.3,489.2 L561.3,490.2 L561.3,491.0 L561.1,491.9 L560.7,492.6 L560.2,493.2 L559.6,493.8 L558.9,494.3 L558.1,494.7 L557.3,495.1 L556.4,495.5 L555.6,495.9 L554.9,496.3 L554.3,496.9 L553.9,497.5 L553.6,498.2 L553.5,499.0 L553.5,499.9 L553.6,500.9 L553.8,502.0 L554.0,503.1 L554.1,504.3 L554.1,505.3 L553.9,506.3 L553.5,507.1 L553.0,507.7 L552.2,508.2 L551.3,508.6 L550.2,508.9 L549.1,509.1 L548.0,509.2 L547.0,509.4 L546.0,509.7 L545.3,510.2 L544.7,510.7 L544.3,511.5 L544.2,512.4 L544.2,513.5 L544.4,514.6 L544.7,515.8 L545.0,516.9 L545.2,518.0 L545.3,518.9 L545.2,519.7 L545.0,520.3 L544.4,520.8 L543.7,521.2 L542.7,521.4 L541.6,521.7 L540.4,522.0 L539.2,522.4 L538.2,522.8 L537.3,523.4 L536.8,524.1 L536.6,524.9 L536.7,525.9 L537.1,527.0 L537.7,528.1 L538.5,529.2 L539.2,530.4 L539.7,531.4 L540.0,532.4 L540.1,533.2 L539.7,534.0 L539.1,534.7 L538.1,535.3 L537.0,535.8 L535.8,536.4 L534.6,537.0 L533.6,537.6 L532.8,538.4 L532.3,539.2 L532.3,540.0 L532.5,540.9 L533.1,541.9 L533.9,542.8 L534.8,543.7 L535.7,544.6 L536.5,545.4 L537.1,546.3 L537.5,547.0 L537.5,547.8 L537.2,548.6 L536.6,549.3 L535.7,550.1 L534.8,550.9 L533.7,551.7 L532.8,552.6 L532.1,553.5 L531.6,554.3 L531.5,555.2 L531.7,556.0 L532.3,556.8 L533.2,557.6 L534.2,558.3 L535.3,559.0 L536.4,559.6 L537.3,560.2 L538.1,560.9 L538.5,561.5 L538.6,562.3 L538.4,563.1 L537.9,563.9 L537.3,564.9 L536.6,565.9 L535.9,566.9 L535.3,567.9 L534.8,568.8 L534.7,569.7 L534.8,570.5 L535.2,571.2 L535.9,571.8 L536.8,572.2 L537.9,572.6 L539.1,572.8 L540.3,573.0 L541.5,573.3 L542.4,573.5 L543.2,573.9 L543.6,574.5 L543.9,575.2 L543.9,576.1 L543.7,577.1 L543.4,578.2 L543.0,579.4 L542.7,580.6 L542.5,581.8 L542.5,582.8 L542.8,583.7 L543.3,584.3 L544.1,584.7 L545.0,585.0 L546.2,585.0 L547.4,584.9 L548.6,584.8 L549.8,584.7 L550.9,584.7 L551.8,584.8 L552.5,585.1 L553.0,585.6 L553.3,586.3 L553.4,587.3 L553.4,588.4 L553.4,589.6 L553.5,590.9 L553.6,592.1 L553.8,593.2 L554.3,594.0 L554.9,594.6 L555.7,594.9 L556.7,594.9 L557.8,594.7 L559.0,594.3 L560.2,593.8 L561.4,593.3 L562.5,593.0 L563.5,592.8 L564.4,593.0 L565.0,593.4 L565.6,594.2 L566.0,595.2 L566.4,596.4 L566.7,597.8 L567.0,599.0 L567.4,600.2 L568.0,601.1 L568.6,601.8 L569.4,602.1 L570.4,602.1 L571.5,601.8 L572.7,601.2 L573.9,600.5 L575.2,599.8 L576.4,599.2 L577.5,598.9 L578.4,599.1 L579.3,599.7 L580.0,600.8 L580.6,602.1 L581.3,603.6 L581.9,605.1 L582.7,606.2 L583.5,607.0 L584.5,607.2 L585.7,607.0 L586.9,606.4 L588.1,605.6 L589.3,604.7 L590.5,604.0 L591.6,603.5 L592.5,603.3 L593.4,603.4 L594.1,603.7 L594.7,604.4 L595.2,605.1 L595.7,606.0 L596.1,606.8 L596.5,607.6 L596.8,608.3"/><path fill="none" stroke="#fff" stroke-width="0.9" d="M563.6,383.0 L564.1,384.0 L564.6,385.2 L564.9,386.5 L564.9,387.9 L564.4,389.4 L563.6,391.1 L562.7,392.8 L562.3,394.6 L562.5,396.5 L563.3,398.5 L564.4,400.5 L565.0,402.6 L564.7,404.7 L563.7,406.9 L562.6,409.1 L562.3,411.4 L562.9,413.6 L564.1,415.8 L564.9,418.1 L564.8,420.3 L563.9,422.5 L562.8,424.7 L562.3,426.8 L562.6,428.9 L563.6,430.9 L564.6,432.9 L565.0,434.8 L564.7,436.6 L563.9,438.4 L563.1,440.0 L562.4,441.6 L562.2,443.1 L562.5,444.6 L563.2,446.1 L564.0,447.6 L564.7,449.0 L565.0,450.4 L565.0,451.8 L564.6,453.2 L564.0,454.6 L563.3,456.0 L562.8,457.3 L562.6,458.6 L562.7,459.9 L563.1,461.2 L563.7,462.4 L564.3,463.6 L564.9,464.9 L565.2,466.1 L565.3,467.3 L565.1,468.4 L564.6,469.6 L564.0,470.7 L563.4,471.8 L562.8,472.9 L562.4,473.9 L562.2,475.0 L562.1,476.0 L562.3,477.1 L562.6,478.2 L563.0,479.3 L563.3,480.4 L563.6,481.5 L563.7,482.5 L563.7,483.5 L563.4,484.4 L563.0,485.2 L562.4,486.0 L561.7,486.7 L561.0,487.3 L560.2,487.9 L559.5,488.5 L558.9,489.0 L558.3,489.6 L557.9,490.3 L557.6,491.0 L557.4,491.7 L557.4,492.6 L557.4,493.4 L557.5,494.4 L557.7,495.3 L557.8,496.3 L557.9,497.2 L557.9,498.1 L557.7,498.9 L557.5,499.6 L557.1,500.2 L556.5,500.8 L555.7,501.2 L554.8,501.6 L553.9,502.0 L552.8,502.4 L551.9,502.8 L551.0,503.2 L550.3,503.7 L549.7,504.3 L549.3,505.0 L549.1,505.9 L549.1,506.9 L549.1,508.0 L549.3,509.2 L549.4,510.3 L549.4,511.4 L549.4,512.4 L549.2,513.3 L548.8,514.0 L548.2,514.6 L547.4,514.9 L546.5,515.2 L545.4,515.3 L544.2,515.4 L543.1,515.6 L542.0,515.8 L541.1,516.2 L540.5,516.7 L540.0,517.4 L539.9,518.2 L540.0,519.2 L540.3,520.2 L540.8,521.3 L541.4,522.5 L542.0,523.6 L542.4,524.6 L542.6,525.6 L542.5,526.4 L542.1,527.1 L541.3,527.7 L540.4,528.2 L539.2,528.6 L537.9,529.0 L536.7,529.5 L535.6,530.1 L534.7,530.7 L534.2,531.5 L534.1,532.4 L534.3,533.3 L534.8,534.4 L535.5,535.4 L536.3,536.5 L537.1,537.6 L537.8,538.5 L538.2,539.4 L538.3,540.3 L538.1,541.0 L537.6,541.7 L536.8,542.4 L535.8,543.1 L534.7,543.7 L533.6,544.4 L532.7,545.1 L531.9,545.9 L531.5,546.7 L531.4,547.5 L531.6,548.4 L532.2,549.2 L533.0,550.1 L534.0,550.9 L535.0,551.7 L536.0,552.5 L536.8,553.2 L537.4,554.0 L537.6,554.8 L537.5,555.6 L537.1,556.4 L536.4,557.2 L535.5,558.1 L534.6,559.1 L533.8,560.0 L533.1,561.0 L532.6,561.9 L532.5,562.8 L532.7,563.6 L533.3,564.3 L534.1,564.9 L535.1,565.5 L536.3,566.0 L537.4,566.4 L538.5,566.8 L539.4,567.2 L540.1,567.7 L540.5,568.3 L540.6,568.9 L540.5,569.7 L540.2,570.7 L539.7,571.7 L539.2,572.8 L538.7,573.9 L538.3,575.0 L538.1,576.0 L538.1,576.9 L538.4,577.7 L539.0,578.3 L539.9,578.7 L540.9,579.0 L542.1,579.1 L543.4,579.2 L544.6,579.2 L545.7,579.3 L546.7,579.5 L547.4,579.8 L547.9,580.4 L548.2,581.1 L548.2,582.1 L548.2,583.2 L548.0,584.4 L547.8,585.6 L547.7,586.8 L547.7,587.9 L548.0,588.9 L548.4,589.6 L549.0,590.1 L549.9,590.3 L550.9,590.4 L552.0,590.2 L553.2,589.9 L554.4,589.6 L555.6,589.3 L556.6,589.1 L557.5,589.2 L558.2,589.4 L558.8,590.0 L559.1,590.9 L559.4,591.9 L559.6,593.2 L559.8,594.5 L560.1,595.7 L560.4,596.9 L560.9,597.8 L561.6,598.4 L562.4,598.7 L563.3,598.7 L564.4,598.4 L565.6,598.0 L566.8,597.4 L568.0,596.8 L569.2,596.4 L570.2,596.2 L571.1,596.2 L571.9,596.6 L572.5,597.3 L572.9,598.3 L573.3,599.5 L573.8,600.9 L574.2,602.2 L574.8,603.5 L575.6,604.4 L576.5,604.9 L577.6,604.9 L578.8,604.4 L580.2,603.7 L581.5,602.8 L582.8,601.9 L584.1,601.3 L585.2,601.2 L586.2,601.5 L587.0,602.2 L587.7,603.4 L588.4,604.7 L589.0,606.0 L589.6,607.3 L590.3,608.3 L591.0,608.9 L591.8,609.3 L592.6,609.3 L593.4,609.1 L594.3,608.7 L595.1,608.2 L595.9,607.7 L596.6,607.2 L597.3,606.8"/>
<path fill="none" stroke="#f4f4fb" stroke-width="1.1" stroke-dasharray="1.5,2" d="M559.6,383.0 L559.6,384.0 L559.6,385.2 L559.6,386.5 L559.6,387.9 L559.6,389.4 L559.6,391.1 L559.6,392.8 L559.6,394.6 L559.6,396.5 L559.6,398.5 L559.6,400.5 L559.6,402.6 L559.6,404.7 L559.6,406.9 L559.6,409.1 L559.6,411.4 L559.6,413.6 L559.6,415.8 L559.6,418.1 L559.6,420.3 L559.6,422.5 L559.6,424.7 L559.6,426.8 L559.6,428.9 L559.6,430.9 L559.6,432.9 L559.6,434.8 L559.6,436.6 L559.6,438.4 L559.6,440.0 L559.6,441.6 L559.6,443.1 L559.6,444.7 L559.6,446.2 L559.7,447.7 L559.7,449.1 L559.7,450.6 L559.7,452.0 L559.8,453.4 L559.8,454.7 L559.8,456.1 L559.9,457.4 L559.9,458.7 L559.9,460.0 L559.9,461.2 L560.0,462.5 L560.0,463.7 L560.0,464.9 L560.0,466.0 L560.0,467.2 L559.9,468.3 L559.9,469.4 L559.8,470.5 L559.8,471.6 L559.7,472.6 L559.6,473.7 L559.5,474.7 L559.4,475.7 L559.3,476.6 L559.1,477.6 L558.9,478.5 L558.7,479.4 L558.4,480.3 L558.2,481.1 L557.9,481.9 L557.6,482.7 L557.4,483.4 L557.1,484.1 L556.8,484.8 L556.5,485.5 L556.1,486.2 L555.8,486.8 L555.5,487.5 L555.1,488.1 L554.8,488.7 L554.4,489.3 L554.0,489.9 L553.7,490.5 L553.3,491.1 L552.9,491.7 L552.5,492.3 L552.1,492.9 L551.7,493.5 L551.2,494.2 L550.8,494.8 L550.4,495.4 L549.9,496.1 L549.5,496.7 L549.1,497.4 L548.6,498.1 L548.2,498.7 L547.8,499.3 L547.4,499.9 L546.9,500.4 L546.5,501.0 L546.0,501.6 L545.5,502.2 L545.0,502.8 L544.5,503.3 L544.0,503.9 L543.5,504.5 L542.9,505.1 L542.4,505.7 L541.8,506.3 L541.3,506.9 L540.7,507.5 L540.1,508.2 L539.6,508.8 L539.0,509.5 L538.4,510.1 L537.9,510.8 L537.3,511.5 L536.8,512.2 L536.2,512.9 L535.7,513.7 L535.1,514.5 L534.6,515.2 L534.1,516.1 L533.6,516.9 L533.2,517.7 L532.8,518.5 L532.4,519.3 L532.0,520.2 L531.7,521.0 L531.3,521.8 L531.0,522.7 L530.6,523.6 L530.3,524.4 L530.0,525.3 L529.7,526.2 L529.4,527.1 L529.1,528.0 L528.8,528.9 L528.5,529.8 L528.2,530.7 L528.0,531.6 L527.7,532.5 L527.5,533.4 L527.3,534.4 L527.1,535.3 L526.9,536.2 L526.7,537.1 L526.5,538.1 L526.3,539.0 L526.2,539.9 L526.0,540.9 L525.9,541.8 L525.8,542.7 L525.7,543.6 L525.6,544.6 L525.6,545.5 L525.5,546.4 L525.5,547.3 L525.4,548.2 L525.4,549.1 L525.4,550.1 L525.4,551.0 L525.4,551.9 L525.4,552.8 L525.5,553.8 L525.5,554.7 L525.6,555.6 L525.6,556.6 L525.7,557.5 L525.8,558.4 L525.9,559.3 L526.1,560.3 L526.2,561.2 L526.3,562.1 L526.5,563.0 L526.7,563.9 L526.9,564.8 L527.1,565.8 L527.3,566.7 L527.5,567.5 L527.8,568.4 L528.1,569.3 L528.3,570.2 L528.6,571.1 L528.9,571.9 L529.3,572.8 L529.6,573.6 L530.0,574.4 L530.4,575.3 L530.8,576.1 L531.2,576.9 L531.6,577.7 L532.0,578.5 L532.5,579.3 L532.9,580.1 L533.4,580.8 L533.9,581.6 L534.4,582.4 L534.9,583.1 L535.4,583.9 L535.9,584.6 L536.5,585.3 L537.0,586.1 L537.6,586.8 L538.2,587.5 L538.8,588.2 L539.3,588.9 L539.9,589.5 L540.5,590.2 L541.2,590.9 L541.8,591.5 L542.4,592.1 L543.1,592.8 L543.7,593.4 L544.4,594.0 L545.0,594.6 L545.7,595.2 L546.4,595.8 L547.2,596.4 L547.9,596.9 L548.6,597.5 L549.4,598.0 L550.1,598.5 L550.9,599.1 L551.7,599.6 L552.4,600.1 L553.2,600.5 L554.0,601.0 L554.8,601.5 L555.6,601.9 L556.4,602.4 L557.2,602.8 L558.0,603.3 L558.8,603.7 L559.6,604.1 L560.4,604.5 L561.3,604.9 L562.1,605.3 L562.9,605.7 L563.7,606.1 L564.6,606.5 L565.4,606.9 L566.2,607.2 L567.0,607.6 L567.9,608.0 L568.7,608.3 L569.7,608.7 L570.6,609.1 L571.6,609.4 L572.6,609.8 L573.6,610.2 L574.6,610.5 L575.7,610.8 L576.7,611.2 L577.7,611.5 L578.8,611.8 L579.8,612.1 L580.9,612.4 L581.9,612.7 L582.9,613.0 L583.9,613.3 L584.9,613.6 L585.9,613.8 L586.8,614.1 L587.7,614.3 L588.6,614.6 L589.4,614.8 L590.2,615.0 L591.0,615.2 L591.7,615.4 L592.4,615.6 L593.0,615.7 L593.5,615.9 L594.0,616.0 L594.4,616.2"/>
<!-- left cuff + teal ruffle -->
<path fill="#8ad3d7" d="M318,440 L323,448 L328,465 L334,490 L345,515 L356,540 L372,565 L384,568 L372,540 L362,515 L350,490 L338,465 L326,440 Z"/>
<g stroke="#4db5c3" stroke-width="0.9" fill="none" opacity="0.75"><path d="M325,462 Q334,500 348,525 Q358,545 370,560"/><path d="M330,462 Q338,500 352,524 Q362,545 374,558"/></g>
<path fill="#c9c9e7" d="M324.5,399.6 L324.5,400.0 L324.6,400.4 L324.7,400.8 L324.7,401.3 L324.8,401.9 L324.9,402.4 L324.9,403.0 L325.0,403.6 L325.1,404.2 L325.1,404.9 L325.2,405.5 L325.3,406.2 L325.4,406.9 L325.5,407.6 L325.5,408.4 L325.6,409.1 L325.7,409.8 L325.8,410.6 L325.9,411.3 L326.0,412.1 L326.1,412.8 L326.2,413.6 L326.3,414.3 L326.5,415.0 L326.6,415.7 L326.7,416.4 L326.8,417.1 L327.0,417.7 L327.1,418.4 L327.3,419.0 L327.4,419.6 L327.6,420.2 L327.7,420.8 L327.9,421.5 L328.1,422.1 L328.2,422.7 L328.4,423.3 L328.6,423.9 L328.7,424.5 L328.9,425.1 L329.1,425.7 L329.3,426.3 L329.5,426.9 L329.7,427.5 L329.9,428.1 L330.1,428.7 L330.3,429.3 L330.5,429.9 L330.7,430.5 L331.0,431.1 L331.2,431.7 L331.4,432.3 L331.7,433.0 L332.0,433.6 L332.2,434.2 L332.5,434.9 L332.8,435.5 L333.1,436.2 L333.4,436.9 L333.7,437.6 L334.0,438.2 L334.4,438.9 L334.7,439.6 L335.1,440.3 L335.5,441.1 L335.9,441.8 L336.3,442.6 L336.7,443.3 L337.2,444.1 L337.6,444.9 L338.1,445.7 L338.5,446.5 L339.0,447.4 L339.4,448.2 L339.9,449.1 L340.3,449.9 L340.8,450.8 L341.3,451.6 L341.8,452.5 L342.3,453.4 L342.7,454.2 L343.2,455.1 L343.7,456.0 L344.2,456.9 L344.6,457.8 L345.1,458.6 L345.5,459.5 L346.0,460.4 L346.4,461.3 L346.9,462.2 L347.3,463.0 L347.7,463.9 L348.1,464.7 L348.5,465.6 L348.9,466.4 L349.3,467.3 L349.6,468.1 L350.0,469.0 L350.4,469.8 L350.8,470.6 L351.2,471.5 L351.6,472.3 L352.0,473.2 L352.3,474.0 L352.7,474.9 L353.1,475.7 L353.4,476.6 L353.8,477.4 L354.2,478.3 L354.5,479.1 L354.9,480.0 L355.3,480.8 L355.6,481.7 L356.0,482.5 L356.3,483.4 L356.7,484.2 L357.0,485.0 L357.4,485.9 L357.7,486.7 L358.0,487.6 L358.4,488.4 L358.7,489.3 L359.0,490.1 L359.4,491.0 L359.7,491.8 L360.0,492.7 L360.4,493.5 L360.7,494.4 L361.0,495.2 L361.3,496.1 L361.6,496.9 L361.9,497.8 L362.3,498.6 L362.6,499.5 L362.9,500.3 L363.2,501.1 L363.5,502.0 L363.8,502.8 L364.1,503.7 L364.4,504.5 L364.7,505.4 L364.9,506.2 L365.2,507.1 L365.5,507.9 L365.8,508.8 L366.1,509.6 L366.4,510.5 L366.6,511.3 L366.9,512.2 L367.2,513.0 L367.5,513.9 L367.7,514.8 L368.0,515.6 L368.3,516.5 L368.5,517.4 L368.8,518.2 L369.0,519.1 L369.2,520.0 L369.5,520.8 L369.7,521.7 L369.9,522.5 L370.1,523.3 L370.4,524.2 L370.6,525.0 L370.8,525.9 L371.0,526.7 L371.2,527.5 L371.4,528.3 L371.7,529.2 L371.9,530.0 L372.1,530.8 L372.3,531.6 L372.5,532.4 L372.8,533.2 L373.0,534.0 L373.2,534.8 L373.5,535.6 L373.7,536.4 L373.9,537.2 L374.2,538.0 L374.5,538.8 L374.7,539.7 L375.0,540.5 L375.3,541.4 L375.6,542.3 L376.0,543.3 L376.3,544.2 L376.6,545.1 L377.0,546.1 L377.3,547.1 L377.6,548.0 L378.0,549.0 L378.3,549.9 L378.7,550.9 L379.0,551.8 L379.4,552.7 L379.7,553.6 L380.0,554.5 L380.4,555.4 L380.7,556.2 L381.0,557.1 L381.3,557.9 L381.6,558.6 L381.8,559.3 L382.1,560.0 L382.3,560.7 L382.6,561.3 L382.8,561.8 L382.9,562.3 L383.1,562.8 L370.9,567.2 L370.7,566.8 L370.6,566.3 L370.4,565.8 L370.1,565.2 L369.9,564.5 L369.7,563.9 L369.4,563.2 L369.1,562.4 L368.8,561.6 L368.5,560.8 L368.2,559.9 L367.9,559.1 L367.5,558.2 L367.2,557.2 L366.8,556.3 L366.5,555.4 L366.1,554.4 L365.8,553.4 L365.4,552.4 L365.1,551.5 L364.7,550.5 L364.4,549.5 L364.0,548.5 L363.7,547.5 L363.3,546.6 L363.0,545.6 L362.7,544.7 L362.4,543.8 L362.1,542.9 L361.8,542.0 L361.5,541.1 L361.3,540.2 L361.0,539.4 L360.7,538.5 L360.5,537.6 L360.2,536.8 L360.0,535.9 L359.8,535.0 L359.5,534.2 L359.3,533.3 L359.1,532.5 L358.9,531.7 L358.6,530.8 L358.4,530.0 L358.2,529.1 L358.0,528.3 L357.8,527.5 L357.6,526.7 L357.3,525.8 L357.1,525.0 L356.9,524.2 L356.7,523.4 L356.5,522.6 L356.2,521.8 L356.0,521.0 L355.8,520.2 L355.5,519.4 L355.3,518.6 L355.1,517.8 L354.8,517.0 L354.5,516.2 L354.3,515.3 L354.0,514.5 L353.7,513.7 L353.5,512.9 L353.2,512.1 L352.9,511.3 L352.6,510.4 L352.4,509.6 L352.1,508.8 L351.8,508.0 L351.5,507.2 L351.2,506.3 L350.9,505.5 L350.6,504.7 L350.3,503.9 L350.0,503.1 L349.7,502.2 L349.4,501.4 L349.1,500.6 L348.8,499.8 L348.5,499.0 L348.2,498.1 L347.9,497.3 L347.6,496.5 L347.3,495.7 L346.9,494.9 L346.6,494.1 L346.3,493.2 L346.0,492.4 L345.6,491.6 L345.3,490.8 L345.0,490.0 L344.6,489.1 L344.3,488.3 L344.0,487.5 L343.6,486.7 L343.3,485.9 L342.9,485.0 L342.6,484.2 L342.2,483.4 L341.9,482.6 L341.5,481.8 L341.2,480.9 L340.8,480.1 L340.4,479.3 L340.1,478.5 L339.7,477.7 L339.3,476.8 L339.0,476.0 L338.6,475.2 L338.2,474.4 L337.8,473.6 L337.5,472.7 L337.1,471.9 L336.7,471.1 L336.3,470.3 L335.9,469.5 L335.5,468.6 L335.1,467.8 L334.8,467.0 L334.4,466.2 L334.0,465.4 L333.5,464.6 L333.1,463.8 L332.7,463.0 L332.2,462.1 L331.8,461.3 L331.3,460.5 L330.9,459.6 L330.4,458.8 L329.9,457.9 L329.4,457.0 L329.0,456.2 L328.5,455.3 L328.0,454.5 L327.5,453.6 L327.1,452.7 L326.6,451.9 L326.2,451.0 L325.7,450.1 L325.3,449.3 L324.9,448.4 L324.5,447.5 L324.1,446.7 L323.7,445.8 L323.3,445.0 L323.0,444.1 L322.6,443.3 L322.3,442.4 L322.0,441.6 L321.7,440.8 L321.4,440.1 L321.1,439.3 L320.9,438.5 L320.6,437.8 L320.4,437.0 L320.1,436.3 L319.9,435.6 L319.7,434.8 L319.5,434.1 L319.3,433.4 L319.1,432.7 L318.9,432.0 L318.8,431.3 L318.6,430.6 L318.4,429.9 L318.3,429.2 L318.1,428.5 L318.0,427.9 L317.8,427.2 L317.7,426.5 L317.6,425.8 L317.4,425.1 L317.3,424.5 L317.2,423.8 L317.1,423.1 L317.0,422.4 L316.9,421.7 L316.7,421.0 L316.6,420.3 L316.5,419.5 L316.4,418.7 L316.3,417.9 L316.2,417.1 L316.2,416.3 L316.1,415.5 L316.0,414.7 L316.0,413.9 L315.9,413.1 L315.9,412.3 L315.8,411.5 L315.8,410.7 L315.7,409.9 L315.7,409.1 L315.7,408.4 L315.7,407.6 L315.6,406.9 L315.6,406.2 L315.6,405.5 L315.6,404.8 L315.6,404.2 L315.6,403.6 L315.5,403.0 L315.5,402.5 L315.5,402.0 L315.5,401.5 L315.5,401.1 L315.5,400.8 L315.5,400.4Z"/>
<path fill="#9495c5" d="M322.7,399.7 L322.7,400.1 L322.8,400.5 L322.8,401.0 L322.9,401.5 L323.0,402.0 L323.0,402.5 L323.1,403.1 L323.1,403.7 L323.2,404.3 L323.2,405.0 L323.3,405.7 L323.4,406.4 L323.4,407.1 L323.5,407.8 L323.6,408.5 L323.6,409.3 L323.7,410.0 L323.8,410.8 L323.9,411.5 L324.0,412.3 L324.1,413.0 L324.2,413.8 L324.3,414.5 L324.4,415.3 L324.5,416.0 L324.6,416.7 L324.8,417.4 L324.9,418.1 L325.0,418.7 L325.2,419.4 L325.3,420.0 L325.5,420.7 L325.6,421.3 L325.8,421.9 L325.9,422.6 L326.1,423.2 L326.2,423.8 L326.4,424.4 L326.6,425.0 L326.7,425.7 L326.9,426.3 L327.1,426.9 L327.3,427.5 L327.5,428.1 L327.6,428.7 L327.8,429.3 L328.1,430.0 L328.3,430.6 L328.5,431.2 L328.7,431.8 L328.9,432.5 L329.2,433.1 L329.4,433.8 L329.7,434.4 L330.0,435.1 L330.2,435.8 L330.5,436.4 L330.8,437.1 L331.1,437.8 L331.4,438.5 L331.8,439.3 L332.1,440.0 L332.4,440.7 L332.8,441.4 L333.2,442.2 L333.6,443.0 L334.0,443.7 L334.4,444.5 L334.9,445.3 L335.3,446.1 L335.8,446.9 L336.2,447.8 L336.7,448.6 L337.1,449.5 L337.6,450.3 L338.1,451.2 L338.5,452.0 L339.0,452.9 L339.5,453.7 L340.0,454.6 L340.5,455.5 L340.9,456.3 L341.4,457.2 L341.9,458.1 L342.3,459.0 L342.8,459.8 L343.2,460.7 L343.7,461.6 L344.1,462.4 L344.5,463.3 L344.9,464.2 L345.3,465.0 L345.7,465.8 L346.1,466.7 L346.5,467.5 L346.9,468.4 L347.3,469.2 L347.7,470.0 L348.1,470.9 L348.4,471.7 L348.8,472.6 L349.2,473.4 L349.6,474.2 L349.9,475.1 L350.3,475.9 L350.7,476.8 L351.1,477.6 L351.4,478.5 L351.8,479.3 L352.1,480.1 L352.5,481.0 L352.9,481.8 L353.2,482.7 L353.6,483.5 L353.9,484.3 L354.3,485.2 L354.6,486.0 L354.9,486.9 L355.3,487.7 L355.6,488.6 L356.0,489.4 L356.3,490.2 L356.6,491.1 L356.9,491.9 L357.3,492.8 L357.6,493.6 L357.9,494.4 L358.2,495.3 L358.6,496.1 L358.9,497.0 L359.2,497.8 L359.5,498.7 L359.8,499.5 L360.1,500.3 L360.4,501.2 L360.7,502.0 L361.0,502.9 L361.3,503.7 L361.6,504.5 L361.9,505.4 L362.2,506.2 L362.5,507.1 L362.8,507.9 L363.1,508.8 L363.3,509.6 L363.6,510.4 L363.9,511.3 L364.2,512.1 L364.4,513.0 L364.7,513.8 L365.0,514.7 L365.3,515.5 L365.5,516.4 L365.8,517.2 L366.0,518.1 L366.2,518.9 L366.5,519.8 L366.7,520.6 L366.9,521.5 L367.2,522.3 L367.4,523.2 L367.6,524.0 L367.8,524.8 L368.1,525.7 L368.3,526.5 L368.5,527.4 L368.7,528.2 L368.9,529.0 L369.1,529.8 L369.4,530.7 L369.6,531.5 L369.8,532.3 L370.0,533.1 L370.3,533.9 L370.5,534.8 L370.7,535.6 L371.0,536.4 L371.2,537.2 L371.5,538.0 L371.7,538.8 L372.0,539.6 L372.3,540.5 L372.6,541.4 L372.9,542.3 L373.2,543.2 L373.5,544.1 L373.8,545.1 L374.2,546.0 L374.5,547.0 L374.9,547.9 L375.2,548.9 L375.6,549.9 L375.9,550.8 L376.3,551.8 L376.6,552.7 L376.9,553.6 L377.3,554.5 L377.6,555.4 L377.9,556.3 L378.2,557.2 L378.6,558.0 L378.8,558.8 L379.1,559.5 L379.4,560.2 L379.7,560.9 L379.9,561.6 L380.1,562.2 L380.3,562.7 L380.5,563.2 L380.7,563.7 L373.9,566.1 L373.8,565.7 L373.6,565.2 L373.4,564.6 L373.2,564.1 L373.0,563.4 L372.7,562.7 L372.4,562.0 L372.1,561.3 L371.9,560.5 L371.5,559.7 L371.2,558.8 L370.9,557.9 L370.6,557.0 L370.2,556.1 L369.9,555.2 L369.5,554.2 L369.2,553.3 L368.8,552.3 L368.5,551.3 L368.1,550.4 L367.8,549.4 L367.4,548.4 L367.1,547.4 L366.7,546.5 L366.4,545.5 L366.1,544.6 L365.8,543.6 L365.5,542.7 L365.2,541.9 L364.9,541.0 L364.6,540.1 L364.4,539.3 L364.1,538.4 L363.9,537.6 L363.6,536.7 L363.4,535.9 L363.1,535.0 L362.9,534.2 L362.7,533.3 L362.5,532.5 L362.2,531.7 L362.0,530.8 L361.8,530.0 L361.6,529.2 L361.4,528.3 L361.1,527.5 L360.9,526.7 L360.7,525.8 L360.5,525.0 L360.3,524.2 L360.0,523.3 L359.8,522.5 L359.6,521.7 L359.4,520.9 L359.1,520.1 L358.9,519.2 L358.7,518.4 L358.4,517.6 L358.2,516.8 L357.9,516.0 L357.6,515.2 L357.4,514.3 L357.1,513.5 L356.8,512.7 L356.6,511.9 L356.3,511.0 L356.0,510.2 L355.7,509.4 L355.4,508.6 L355.2,507.7 L354.9,506.9 L354.6,506.1 L354.3,505.3 L354.0,504.4 L353.7,503.6 L353.4,502.8 L353.1,501.9 L352.8,501.1 L352.5,500.3 L352.2,499.5 L351.9,498.6 L351.6,497.8 L351.2,497.0 L350.9,496.2 L350.6,495.3 L350.3,494.5 L350.0,493.7 L349.6,492.9 L349.3,492.0 L349.0,491.2 L348.7,490.4 L348.3,489.6 L348.0,488.7 L347.6,487.9 L347.3,487.1 L347.0,486.2 L346.6,485.4 L346.3,484.6 L345.9,483.8 L345.6,482.9 L345.2,482.1 L344.9,481.3 L344.5,480.5 L344.1,479.6 L343.8,478.8 L343.4,478.0 L343.0,477.2 L342.7,476.3 L342.3,475.5 L341.9,474.7 L341.6,473.8 L341.2,473.0 L340.8,472.2 L340.4,471.4 L340.0,470.5 L339.6,469.7 L339.3,468.9 L338.9,468.1 L338.5,467.2 L338.1,466.4 L337.7,465.6 L337.3,464.8 L336.9,464.0 L336.4,463.1 L336.0,462.3 L335.5,461.4 L335.1,460.6 L334.6,459.8 L334.2,458.9 L333.7,458.0 L333.2,457.2 L332.8,456.3 L332.3,455.5 L331.8,454.6 L331.3,453.8 L330.9,452.9 L330.4,452.0 L329.9,451.2 L329.5,450.3 L329.0,449.5 L328.6,448.6 L328.2,447.8 L327.7,447.0 L327.3,446.1 L326.9,445.3 L326.5,444.5 L326.2,443.6 L325.8,442.8 L325.5,442.0 L325.1,441.2 L324.8,440.4 L324.5,439.7 L324.2,438.9 L324.0,438.2 L323.7,437.5 L323.5,436.7 L323.2,436.0 L323.0,435.3 L322.7,434.6 L322.5,433.9 L322.3,433.2 L322.1,432.5 L321.9,431.8 L321.7,431.2 L321.5,430.5 L321.4,429.8 L321.2,429.2 L321.0,428.5 L320.9,427.8 L320.7,427.2 L320.6,426.5 L320.4,425.9 L320.3,425.2 L320.1,424.5 L320.0,423.9 L319.9,423.2 L319.7,422.5 L319.6,421.9 L319.5,421.2 L319.4,420.5 L319.2,419.8 L319.1,419.1 L319.0,418.3 L318.9,417.6 L318.8,416.8 L318.7,416.0 L318.7,415.2 L318.6,414.4 L318.5,413.6 L318.4,412.8 L318.4,412.1 L318.3,411.3 L318.3,410.5 L318.2,409.7 L318.2,408.9 L318.1,408.2 L318.1,407.5 L318.0,406.7 L318.0,406.0 L318.0,405.3 L318.0,404.7 L317.9,404.1 L317.9,403.4 L317.9,402.9 L317.9,402.3 L317.8,401.8 L317.8,401.4 L317.8,400.9 L317.8,400.6 L317.8,400.2Z"/>
<path fill="none" stroke="#fff" stroke-width="0.8" d="M320.0,400.0 L319.8,400.4 L319.6,400.8 L319.4,401.2 L319.2,401.7 L319.0,402.3 L318.8,402.8 L318.7,403.4 L318.7,404.0 L318.7,404.6 L318.9,405.3 L319.2,405.9 L319.6,406.6 L320.1,407.3 L320.6,408.0 L321.1,408.7 L321.6,409.4 L322.1,410.2 L322.4,410.9 L322.6,411.7 L322.6,412.4 L322.5,413.2 L322.3,414.0 L321.9,414.8 L321.5,415.7 L321.1,416.5 L320.7,417.3 L320.4,418.1 L320.2,418.9 L320.1,419.6 L320.2,420.4 L320.4,421.0 L320.8,421.6 L321.2,422.2 L321.7,422.8 L322.3,423.4 L322.9,423.9 L323.5,424.4 L324.1,425.0 L324.6,425.5 L325.1,426.1 L325.4,426.6 L325.6,427.3 L325.7,427.9 L325.7,428.6 L325.6,429.3 L325.4,430.1 L325.1,430.9 L324.8,431.7 L324.5,432.5 L324.3,433.3 L324.1,434.1 L324.0,434.9 L324.1,435.7 L324.4,436.4 L324.8,437.0 L325.4,437.6 L326.1,438.2 L327.0,438.7 L327.9,439.2 L328.8,439.7 L329.6,440.2 L330.4,440.8 L330.9,441.4 L331.3,442.2 L331.5,443.0 L331.4,444.0 L331.3,445.1 L331.0,446.3 L330.7,447.5 L330.6,448.7 L330.6,449.7 L330.9,450.7 L331.4,451.5 L332.2,452.2 L333.2,452.7 L334.4,453.2 L335.6,453.6 L336.8,454.1 L337.7,454.7 L338.5,455.4 L338.9,456.3 L339.1,457.3 L339.0,458.5 L338.8,459.7 L338.5,461.0 L338.3,462.2 L338.2,463.3 L338.3,464.3 L338.6,465.1 L339.2,465.9 L340.1,466.5 L341.1,467.0 L342.2,467.5 L343.3,468.0 L344.3,468.6 L345.1,469.2 L345.7,469.9 L346.1,470.8 L346.2,471.7 L346.1,472.8 L345.8,473.9 L345.4,475.1 L345.1,476.2 L344.9,477.3 L344.9,478.3 L345.1,479.2 L345.6,480.0 L346.3,480.7 L347.1,481.3 L348.2,481.8 L349.2,482.4 L350.3,482.9 L351.2,483.5 L351.9,484.2 L352.3,485.0 L352.6,485.9 L352.5,486.9 L352.3,487.9 L352.0,489.1 L351.6,490.2 L351.2,491.3 L351.0,492.3 L351.0,493.3 L351.3,494.1 L351.7,494.9 L352.5,495.6 L353.3,496.2 L354.3,496.8 L355.4,497.3 L356.4,497.9 L357.2,498.6 L357.8,499.3 L358.2,500.1 L358.4,501.0 L358.3,502.0 L358.0,503.0 L357.6,504.1 L357.2,505.2 L356.8,506.2 L356.6,507.2 L356.5,508.2 L356.7,509.0 L357.1,509.8 L357.8,510.5 L358.6,511.2 L359.6,511.8 L360.6,512.4 L361.5,513.0 L362.4,513.6 L363.0,514.4 L363.4,515.2 L363.5,516.1 L363.4,517.0 L363.1,518.0 L362.7,519.0 L362.2,520.1 L361.8,521.1 L361.4,522.1 L361.2,523.0 L361.3,523.9 L361.6,524.7 L362.1,525.5 L362.8,526.2 L363.7,526.8 L364.6,527.5 L365.5,528.1 L366.3,528.8 L367.0,529.5 L367.5,530.3 L367.7,531.1 L367.7,532.0 L367.5,532.9 L367.1,533.9 L366.6,535.0 L366.1,536.0 L365.7,537.0 L365.5,538.0 L365.4,539.0 L365.6,539.8 L366.1,540.6 L366.8,541.3 L367.7,542.0 L368.7,542.7 L369.8,543.3 L370.8,544.0 L371.7,544.8 L372.2,545.6 L372.5,546.6 L372.4,547.7 L372.1,548.9 L371.6,550.2 L371.1,551.5 L370.8,552.7 L370.7,553.8 L370.9,554.8 L371.4,555.7 L372.1,556.5 L373.1,557.1 L374.1,557.7 L375.2,558.3 L376.1,558.9 L376.9,559.5 L377.5,560.1 L377.8,560.8 L378.0,561.5 L378.0,562.3 L377.9,563.0 L377.7,563.7 L377.5,564.3 L377.3,564.9"/><path fill="none" stroke="#fff" stroke-width="0.8" d="M320.0,400.0 L320.2,400.3 L320.5,400.7 L320.8,401.1 L321.1,401.6 L321.4,402.1 L321.6,402.6 L321.8,403.2 L321.9,403.8 L321.9,404.4 L321.8,405.1 L321.6,405.8 L321.3,406.5 L321.0,407.2 L320.6,408.0 L320.1,408.8 L319.7,409.6 L319.4,410.4 L319.2,411.2 L319.2,412.0 L319.3,412.8 L319.6,413.5 L320.0,414.3 L320.5,415.0 L321.1,415.7 L321.8,416.4 L322.3,417.1 L322.9,417.7 L323.3,418.4 L323.6,419.0 L323.8,419.6 L323.8,420.3 L323.8,421.0 L323.6,421.7 L323.4,422.4 L323.1,423.2 L322.7,423.9 L322.4,424.7 L322.1,425.4 L321.9,426.2 L321.8,426.9 L321.8,427.6 L321.9,428.3 L322.1,428.9 L322.5,429.5 L323.0,430.1 L323.6,430.6 L324.3,431.1 L325.0,431.6 L325.7,432.1 L326.4,432.6 L327.0,433.1 L327.5,433.7 L327.9,434.3 L328.2,435.0 L328.3,435.7 L328.2,436.5 L328.1,437.4 L327.8,438.3 L327.5,439.3 L327.2,440.3 L327.0,441.3 L327.0,442.3 L327.1,443.2 L327.5,444.0 L328.1,444.7 L328.9,445.3 L329.9,445.8 L331.0,446.3 L332.2,446.8 L333.2,447.3 L334.1,447.9 L334.7,448.6 L335.1,449.5 L335.2,450.5 L335.1,451.7 L334.9,452.9 L334.6,454.2 L334.4,455.4 L334.4,456.5 L334.6,457.5 L335.1,458.4 L335.9,459.1 L336.9,459.6 L338.1,460.1 L339.2,460.6 L340.4,461.1 L341.3,461.7 L342.1,462.4 L342.6,463.2 L342.8,464.1 L342.7,465.2 L342.5,466.3 L342.2,467.5 L341.9,468.7 L341.7,469.8 L341.6,470.8 L341.8,471.8 L342.2,472.6 L342.8,473.3 L343.7,473.9 L344.7,474.4 L345.8,474.9 L346.9,475.4 L347.8,476.0 L348.6,476.7 L349.1,477.4 L349.4,478.3 L349.4,479.3 L349.2,480.4 L348.9,481.5 L348.6,482.6 L348.2,483.8 L348.0,484.8 L348.0,485.8 L348.3,486.7 L348.7,487.4 L349.5,488.1 L350.4,488.7 L351.4,489.3 L352.4,489.8 L353.4,490.4 L354.3,491.0 L355.0,491.7 L355.4,492.5 L355.5,493.4 L355.5,494.4 L355.2,495.5 L354.8,496.6 L354.4,497.7 L354.1,498.8 L353.9,499.8 L353.9,500.7 L354.1,501.6 L354.5,502.4 L355.2,503.0 L356.1,503.7 L357.1,504.3 L358.1,504.8 L359.1,505.4 L359.9,506.1 L360.5,506.8 L360.9,507.6 L361.0,508.5 L360.9,509.5 L360.6,510.5 L360.2,511.6 L359.8,512.6 L359.4,513.7 L359.1,514.7 L359.0,515.6 L359.2,516.5 L359.5,517.3 L360.1,518.0 L360.9,518.7 L361.8,519.3 L362.8,519.9 L363.7,520.6 L364.5,521.2 L365.1,522.0 L365.5,522.8 L365.7,523.6 L365.6,524.5 L365.3,525.5 L364.9,526.5 L364.4,527.5 L363.9,528.5 L363.5,529.5 L363.3,530.5 L363.3,531.4 L363.5,532.2 L363.9,533.0 L364.6,533.7 L365.5,534.4 L366.4,535.0 L367.3,535.7 L368.2,536.3 L369.0,537.0 L369.5,537.7 L369.8,538.5 L369.9,539.4 L369.8,540.4 L369.4,541.4 L369.0,542.6 L368.5,543.7 L368.1,544.9 L368.0,546.0 L368.1,547.1 L368.5,548.0 L369.3,548.8 L370.3,549.6 L371.5,550.3 L372.6,550.9 L373.7,551.6 L374.5,552.4 L375.0,553.3 L375.2,554.3 L375.1,555.4 L374.8,556.5 L374.4,557.6 L374.0,558.7 L373.7,559.8 L373.5,560.8 L373.5,561.6 L373.7,562.4 L374.0,563.0 L374.5,563.6 L375.0,564.0 L375.6,564.4 L376.2,564.8 L376.7,565.1"/>
<path fill="none" stroke="#f2f2fa" stroke-width="0.8" d="M316.6,400.3 L316.6,400.7 L316.6,401.0 L316.6,401.5 L316.6,401.9 L316.7,402.4 L316.7,403.0 L316.7,403.5 L316.7,404.1 L316.7,404.8 L316.7,405.4 L316.8,406.1 L316.8,406.8 L316.8,407.5 L316.9,408.3 L316.9,409.0 L316.9,409.8 L317.0,410.6 L317.0,411.4 L317.1,412.2 L317.1,413.0 L317.2,413.8 L317.3,414.6 L317.3,415.4 L317.4,416.2 L317.5,417.0 L317.6,417.8 L317.7,418.5 L317.8,419.3 L317.9,420.1 L318.0,420.8 L318.1,421.5 L318.2,422.2 L318.4,422.8 L318.5,423.5 L318.6,424.2 L318.7,424.9 L318.9,425.5 L319.0,426.2 L319.1,426.9 L319.3,427.5 L319.4,428.2 L319.6,428.9 L319.8,429.6 L319.9,430.2 L320.1,430.9 L320.3,431.6 L320.5,432.3 L320.6,433.0 L320.8,433.7 L321.1,434.4 L321.3,435.1 L321.5,435.8 L321.7,436.5 L322.0,437.3 L322.2,438.0 L322.5,438.8 L322.8,439.5 L323.1,440.3 L323.3,441.1 L323.7,441.8 L324.0,442.7 L324.3,443.5 L324.7,444.3 L325.1,445.2 L325.4,446.0 L325.8,446.9 L326.3,447.7 L326.7,448.6 L327.1,449.4 L327.5,450.3 L328.0,451.1 L328.5,452.0 L328.9,452.9 L329.4,453.7 L329.9,454.6 L330.3,455.4 L330.8,456.3 L331.3,457.1 L331.8,458.0 L332.2,458.9 L332.7,459.7 L333.2,460.6 L333.6,461.4 L334.1,462.2 L334.5,463.1 L334.9,463.9 L335.3,464.7 L335.8,465.5 L336.2,466.3 L336.6,467.1 L336.9,468.0 L337.3,468.8 L337.7,469.6 L338.1,470.4 L338.5,471.3 L338.9,472.1 L339.3,472.9 L339.6,473.7 L340.0,474.5 L340.4,475.4 L340.8,476.2 L341.1,477.0 L341.5,477.8 L341.9,478.7 L342.2,479.5 L342.6,480.3 L342.9,481.1 L343.3,482.0 L343.7,482.8 L344.0,483.6 L344.4,484.4 L344.7,485.3 L345.1,486.1 L345.4,486.9 L345.7,487.7 L346.1,488.5 L346.4,489.4 L346.8,490.2 L347.1,491.0 L347.4,491.8 L347.7,492.7 L348.1,493.5 L348.4,494.3 L348.7,495.1 L349.0,495.9 L349.3,496.8 L349.7,497.6 L350.0,498.4 L350.3,499.2 L350.6,500.1 L350.9,500.9 L351.2,501.7 L351.5,502.5 L351.8,503.4 L352.1,504.2 L352.4,505.0 L352.7,505.8 L353.0,506.6 L353.3,507.5 L353.6,508.3 L353.8,509.1 L354.1,509.9 L354.4,510.8 L354.7,511.6 L355.0,512.4 L355.2,513.2 L355.5,514.0 L355.8,514.9 L356.0,515.7 L356.3,516.5 L356.5,517.3 L356.8,518.1 L357.0,518.9 L357.3,519.7 L357.5,520.5 L357.7,521.3 L358.0,522.2 L358.2,523.0 L358.4,523.8 L358.6,524.6 L358.9,525.4 L359.1,526.3 L359.3,527.1 L359.5,527.9 L359.7,528.7 L359.9,529.6 L360.2,530.4 L360.4,531.3 L360.6,532.1 L360.8,532.9 L361.0,533.8 L361.3,534.6 L361.5,535.5 L361.7,536.3 L362.0,537.2 L362.2,538.1 L362.5,538.9 L362.8,539.8 L363.0,540.6 L363.3,541.5 L363.6,542.4 L363.9,543.3 L364.2,544.2 L364.5,545.1 L364.8,546.1 L365.2,547.0 L365.5,548.0 L365.8,549.0 L366.2,550.0 L366.5,550.9 L366.9,551.9 L367.2,552.9 L367.6,553.9 L368.0,554.8 L368.3,555.8 L368.6,556.7 L369.0,557.6 L369.3,558.5 L369.6,559.4 L370.0,560.2 L370.3,561.1 L370.6,561.9 L370.8,562.6 L371.1,563.3 L371.4,564.0 L371.6,564.6 L371.8,565.2 L372.0,565.8 L372.2,566.2 L372.4,566.7"/>
<!-- prints -->
<g>
<path fill="#a9bdcc" d="M398,452 Q394,440 404,436 Q414,434 418,444 L474,452 Q488,454 486,468 Q492,482 482,490 Q478,502 462,502 Q452,510 440,504 Q424,510 414,500 Q400,496 402,484 Q392,474 398,462 Z"/>
<ellipse cx="446" cy="468" rx="27" ry="20" fill="#c9a07d"/>
<circle cx="417" cy="409" r="8" fill="#c9a07d"/><circle cx="463" cy="413" r="8" fill="#c9a07d"/>
<circle cx="417" cy="409" r="4.2" fill="#b5886a"/><circle cx="463" cy="413" r="4.2" fill="#b5886a"/>
<ellipse cx="439.5" cy="433" rx="26" ry="21.5" fill="#c9a07d"/>
<path fill="#9ec1c9" d="M413,420 Q414,402 436,400 Q458,400 463,414 Q468,426 462,433 Q456,424 448,418 Q432,414 413,420 Z"/>
<g fill="#e3cf6a"><circle cx="424" cy="410" r="1.2"/><circle cx="440" cy="406" r="1.2"/><circle cx="454" cy="412" r="1.2"/></g>
<circle cx="449" cy="433" r="3.6" fill="#f4f6f8"/>
<ellipse cx="440" cy="446" rx="8" ry="6" fill="#d9b896"/>
<path d="M426,438 q4,2.5 8,0 M445,439 q4,2.5 8,0" stroke="#6a4a35" stroke-width="1" fill="none"/>
<path d="M437,443 h5 l-2.5,2.5 Z" fill="#5a3f2c"/>
<ellipse cx="456" cy="462" rx="6.5" ry="8" fill="#a9d2cd" transform="rotate(-25 456 462)"/>
<g fill="#b0c2d0" stroke="#9db0c0" stroke-width="0.5">
<circle cx="414" cy="486" r="9"/><circle cx="430" cy="494" r="9.5"/><circle cx="448" cy="498" r="9"/><circle cx="465" cy="494" r="8.5"/><circle cx="478" cy="482" r="8"/><circle cx="404" cy="466" r="8"/><circle cx="482" cy="464" r="7"/>
</g>
<g fill="#8497ac" opacity="0.7"><circle cx="412" cy="486" r="1"/><circle cx="430" cy="496" r="1.1"/><circle cx="450" cy="500" r="1"/><circle cx="468" cy="492" r="1"/><circle cx="480" cy="480" r="1"/><circle cx="402" cy="466" r="1"/></g>
<mask id="moonm"><rect x="460" y="400" width="60" height="60" fill="#fff"/><circle cx="480" cy="424" r="13" fill="#000"/></mask>
<circle cx="488" cy="432" r="14.5" fill="#e8c94a" mask="url(#moonm)"/>
<path fill="#a4d0d5" d="M388,520 Q386,508 398,508 Q404,502 412,508 Q424,512 424,526 Q430,540 416,540 L396,534 Q386,530 388,520 Z"/>
<path fill="#eef6fa" stroke="#b9c6d0" stroke-width="0.8" d="M413.0,547.0 a4.2,4.2 0 0 1 2.6,-7.7 a5.9,5.9 0 0 1 8.4,-4.2 a5.0,5.0 0 0 1 7.0,3.5 a4.2,4.2 0 0 1 4.0,8.4 Z"/>
<path fill="#ced3dc" stroke="#9ea8b6" stroke-width="0.8" d="M352.0,425.0 a7.8,7.8 0 0 1 4.3,-14.3 a10.9,10.9 0 0 1 13.7,-7.8 a9.4,9.4 0 0 1 11.5,6.5 a7.8,7.8 0 0 1 6.5,15.6 Z"/>
<path fill="#eaf3f8" stroke="#b9c6d0" stroke-width="0.8" d="M369.0,448.0 a5.4,5.4 0 0 1 2.9,-9.9 a7.6,7.6 0 0 1 9.1,-5.4 a6.5,6.5 0 0 1 7.7,4.5 a5.4,5.4 0 0 1 4.3,10.8 Z"/>
<path fill="#eaf3f8" stroke="#b9c6d0" stroke-width="0.8" d="M498.0,485.0 a4.8,4.8 0 0 1 2.9,-8.8 a6.7,6.7 0 0 1 9.1,-4.8 a5.8,5.8 0 0 1 7.7,4.0 a4.8,4.8 0 0 1 4.3,9.6 Z"/>
<path fill="#cbd5de" stroke="#9ea8b6" stroke-width="0.8" d="M464.0,597.0 a6.6,6.6 0 0 1 4.3,-12.1 a9.2,9.2 0 0 1 13.7,-6.6 a7.9,7.9 0 0 1 11.5,5.5 a6.6,6.6 0 0 1 6.5,13.2 Z"/>
<path fill="none" stroke="#e2e59a" stroke-width="3" d="M441,533 Q452,580 471,618"/>
<rect x="455" y="535" width="23" height="21" rx="2" fill="#eef5f9" stroke="#5a6070" stroke-width="1" transform="rotate(20 467 546)"/>
<rect x="458" y="538" width="17" height="15" fill="none" stroke="#8a90a0" stroke-width="0.7" stroke-dasharray="1.5,1.5" transform="rotate(20 467 546)"/>
<path fill="none" stroke="#dcb94a" stroke-width="2" stroke-linejoin="round" transform="rotate(20 467 546)" d="M467,553 C461,548 458,544 459,541 C460,537 465,537 467,541 C469,537 474,537 475,541 C476,544 473,548 467,553 Z"/>
<g fill="#e8c94a"><path d="M381.0,386.5 L382.6,389.8 L386.2,390.3 L383.6,392.8 L384.2,396.4 L381.0,394.8 L377.8,396.4 L378.4,392.8 L375.8,390.3 L379.4,389.8Z"/><path d="M507.0,501.0 L509.4,505.8 L514.6,506.5 L510.8,510.2 L511.7,515.5 L507.0,513.0 L502.3,515.5 L503.2,510.2 L499.4,506.5 L504.6,505.8Z"/><path d="M484.0,424.0 L485.2,426.4 L487.8,426.8 L485.9,428.6 L486.4,431.2 L484.0,430.0 L481.6,431.2 L482.1,428.6 L480.2,426.8 L482.8,426.4Z"/><path d="M490.0,417.5 L490.7,419.0 L492.4,419.2 L491.2,420.4 L491.5,422.0 L490.0,421.2 L488.5,422.0 L488.8,420.4 L487.6,419.2 L489.3,419.0Z"/></g>
<g fill="#8d9cbb"><path d="M395.0,401.5 L396.0,403.6 L398.3,403.9 L396.7,405.5 L397.1,407.8 L395.0,406.8 L392.9,407.8 L393.3,405.5 L391.7,403.9 L394.0,403.6Z"/><path d="M367.0,455.0 L368.2,457.4 L370.8,457.8 L368.9,459.6 L369.4,462.2 L367.0,461.0 L364.6,462.2 L365.1,459.6 L363.2,457.8 L365.8,457.4Z"/><path d="M372.0,490.5 L373.0,492.6 L375.3,492.9 L373.7,494.5 L374.1,496.8 L372.0,495.8 L369.9,496.8 L370.3,494.5 L368.7,492.9 L371.0,492.6Z"/><path d="M512.0,434.0 L512.9,435.8 L514.9,436.1 L513.4,437.5 L513.8,439.4 L512.0,438.5 L510.2,439.4 L510.6,437.5 L509.1,436.1 L511.1,435.8Z"/><path d="M518.0,459.5 L519.0,461.6 L521.3,461.9 L519.7,463.5 L520.1,465.8 L518.0,464.8 L515.9,465.8 L516.3,463.5 L514.7,461.9 L517.0,461.6Z"/><path d="M492.0,523.5 L492.7,525.0 L494.4,525.2 L493.2,526.4 L493.5,528.0 L492.0,527.2 L490.5,528.0 L490.8,526.4 L489.6,525.2 L491.3,525.0Z"/><path d="M485.0,534.5 L485.7,536.0 L487.4,536.2 L486.2,537.4 L486.5,539.0 L485.0,538.2 L483.5,539.0 L483.8,537.4 L482.6,536.2 L484.3,536.0Z"/><path d="M497.0,548.0 L497.9,549.8 L499.9,550.1 L498.4,551.5 L498.8,553.4 L497.0,552.5 L495.2,553.4 L495.6,551.5 L494.1,550.1 L496.1,549.8Z"/><path d="M421.0,566.5 L421.7,568.0 L423.4,568.2 L422.2,569.4 L422.5,571.0 L421.0,570.2 L419.5,571.0 L419.8,569.4 L418.6,568.2 L420.3,568.0Z"/><path d="M428.0,583.0 L429.2,585.4 L431.8,585.8 L429.9,587.6 L430.4,590.2 L428.0,589.0 L425.6,590.2 L426.1,587.6 L424.2,585.8 L426.8,585.4Z"/></g>
<path d="M403,408 h5 l-5,5 h5 M405,416 h5 l-5,5 h5" stroke="#6a7590" stroke-width="1.2" fill="none"/>
</g>
</g>
<g stroke="#d2222c" stroke-width="2.6" fill="#d2222c">
<line x1="500" y1="131" x2="500" y2="206"/><circle cx="500" cy="206" r="5" stroke="none"/>
<line x1="302.8" y1="249" x2="376" y2="248.4"/><circle cx="376" cy="248.4" r="5" stroke="none"/>
<line x1="714" y1="341" x2="655" y2="341"/><circle cx="655" cy="341" r="5" stroke="none"/>
<line x1="292" y1="435" x2="363.5" y2="435"/><circle cx="363.5" cy="435" r="5" stroke="none"/>
<line x1="694" y1="509" x2="626" y2="509"/><circle cx="626" cy="509" r="5" stroke="none"/>
<line x1="345" y1="579" x2="416.3" y2="579"/><circle cx="416.3" cy="579" r="5" stroke="none"/>
<line x1="564" y1="651" x2="564" y2="577.5"/><circle cx="564" cy="577.5" r="5" stroke="none"/>
</g>
</svg>
<div class="t" style="left:451.7px;top:50.4px;transform:scaleX(1.0135)">Poche</div><div class="t" style="left:386.0px;top:85.5px;transform:scaleX(1.0656)">Stop &amp; Protect</div><div class="t" style="left:139.9px;top:195.0px;transform:scaleX(1.0833)">Ceinture</div><div class="t" style="left:125.9px;top:230.0px;transform:scaleX(1.0897)">extensible</div><div class="t" style="left:172.0px;top:265.0px;transform:scaleX(1.1148)">360°</div><div class="t" style="left:753.0px;top:286.4px;transform:scaleX(1.0488)">Côtés</div><div class="t" style="left:734.0px;top:321.5px;transform:scaleX(1.0588)">faciles à</div><div class="t" style="left:732.9px;top:356.6px;transform:scaleX(1.0678)">déchirer</div><div class="t" style="left:143.2px;top:399.0px;transform:scaleX(1.1250)">Matières</div><div class="t" style="left:157.7px;top:434.0px;transform:scaleX(1.0311)">douces</div><div class="t" style="left:737.9px;top:455.4px;transform:scaleX(1.0571)">Cœur à</div><div class="t" style="left:709.5px;top:490.5px;transform:scaleX(1.0981)">absorption</div><div class="t" style="left:719.9px;top:525.7px;transform:scaleX(1.0815)">renforcée</div><div class="t" style="left:168.8px;top:544.0px;transform:scaleX(1.0951)">Indicateur</div><div class="t" style="left:195.9px;top:579.2px;transform:scaleX(1.0485)">d'urine</div><div class="t" style="left:489.8px;top:656.0px;transform:scaleX(1.0892)">Barrières</div><div class="t" style="left:480.5px;top:691.2px;transform:scaleX(1.1427)">anti-fuites</div><div class="s" style="left:382.0px;top:764.8px;transform:scaleX(0.9537)">Les dessins sur la couche peuvent varier</div>
</body></html>
